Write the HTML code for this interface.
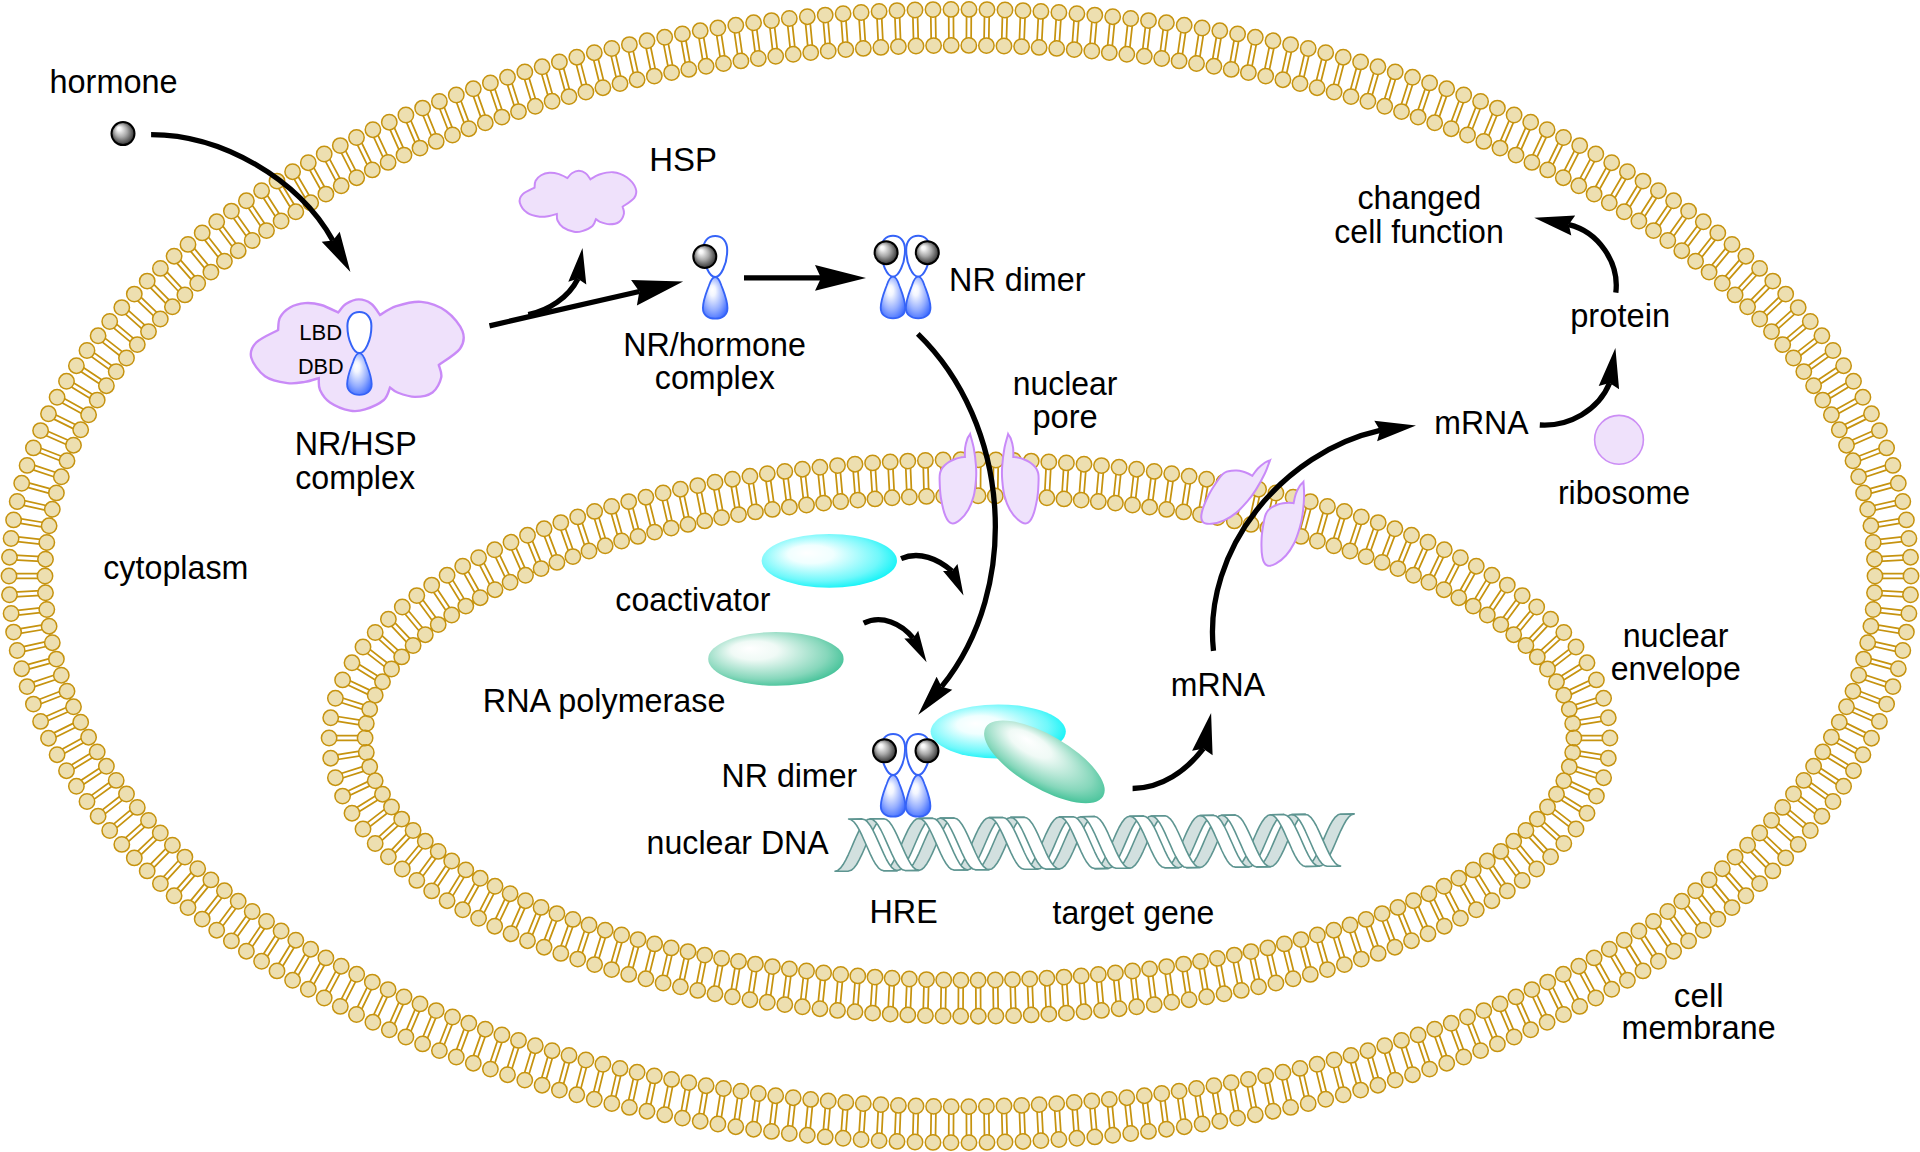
<!DOCTYPE html>
<html><head><meta charset="utf-8"><style>html,body{margin:0;padding:0;background:#fff;overflow:hidden}svg{display:block}</style></head>
<body><svg width="1920" height="1152" viewBox="0 0 1920 1152">
<defs>
 <radialGradient id="gball" cx="0.5" cy="0.5" r="0.56" fx="0.3" fy="0.25">
  <stop offset="0" stop-color="#ffffff"/><stop offset="0.15" stop-color="#f5f5f5"/><stop offset="0.5" stop-color="#a9a9a9"/><stop offset="0.8" stop-color="#555"/><stop offset="1" stop-color="#151515"/>
 </radialGradient>
 <radialGradient id="gnr" cx="0.45" cy="0.45" r="0.62" fx="0.38" fy="0.3">
  <stop offset="0" stop-color="#ffffff"/><stop offset="0.2" stop-color="#f3f6ff"/><stop offset="0.65" stop-color="#95aeff"/><stop offset="1" stop-color="#3f6cff"/>
 </radialGradient>
 <radialGradient id="gcoa" cx="0.45" cy="0.45" r="0.6" fx="0.33" fy="0.35">
  <stop offset="0" stop-color="#ffffff"/><stop offset="0.28" stop-color="#f0ffff"/><stop offset="0.75" stop-color="#6ff8fb"/><stop offset="1" stop-color="#05f2f6"/>
 </radialGradient>
 <radialGradient id="grna" cx="0.45" cy="0.45" r="0.62" fx="0.3" fy="0.3">
  <stop offset="0" stop-color="#ffffff"/><stop offset="0.28" stop-color="#f0faf6"/><stop offset="0.75" stop-color="#86d7bb"/><stop offset="1" stop-color="#34bd90"/>
 </radialGradient>
 
<g id="nr">
 <path d="M0,0C-3,0 -6,-3.5 -8,-8C-10.5,-13 -12,-20 -12,-27C-12,-36 -7,-41 0,-41C7,-41 12,-36 12,-27C12,-20 10.5,-13 8,-8C6,-3.5 3,0 0,0Z" fill="#fff" stroke="#3563f7" stroke-width="2"/>
 <path d="M0,0C2.5,0 4.6,3.5 6.4,9C8.6,15 12.2,23 12.3,31C12.4,38 7,41.7 0,41.7C-7,41.7 -12.4,38 -12.3,31C-12.2,23 -8.6,15 -6.4,9C-4.6,3.5 -2.5,0 0,0Z" fill="url(#gnr)" stroke="#3563f7" stroke-width="1.8"/>
</g>
</defs>
<rect width="1920" height="1152" fill="#fff"/>
<g stroke="#c6930f"><path d="M966.6,9.4L966.4,45.4M971.3,9.4L971.1,45.4M984.6,9.6L984.0,45.6M989.3,9.7L988.7,45.7M1002.6,10.0L1001.6,46.0M1007.3,10.1L1006.3,46.1M1020.6,10.5L1019.2,46.5M1025.3,10.7L1023.9,46.7M1038.6,11.3L1036.8,47.3M1043.3,11.6L1041.5,47.5M1056.6,12.3L1054.3,48.2M1061.3,12.6L1059.0,48.5M1074.5,13.5L1071.9,49.4M1079.2,13.8L1076.6,49.7M1092.5,14.9L1089.4,50.8M1097.2,15.3L1094.1,51.2M1110.4,16.5L1107.0,52.3M1115.1,16.9L1111.6,52.8M1128.3,18.3L1124.4,54.1M1133.0,18.8L1129.1,54.6M1146.2,20.3L1141.9,56.1M1150.9,20.9L1146.6,56.6M1164.1,22.5L1159.4,58.2M1168.7,23.1L1164.0,58.8M1181.9,25.0L1176.8,60.6M1186.6,25.6L1181.4,61.3M1199.7,27.6L1194.2,63.2M1204.4,28.3L1198.8,63.9M1217.5,30.5L1211.5,66.0M1222.2,31.2L1216.2,66.7M1235.3,33.5L1228.9,69.0M1239.9,34.4L1233.5,69.8M1253.0,36.8L1246.1,72.2M1257.6,37.7L1250.7,73.1M1270.7,40.3L1263.4,75.6M1275.3,41.3L1268.0,76.5M1288.3,44.1L1280.6,79.2M1292.9,45.1L1285.1,80.2M1305.9,48.0L1297.7,83.1M1310.4,49.1L1302.3,84.1M1323.4,52.2L1314.8,87.1M1328.0,53.3L1319.3,88.3M1340.9,56.6L1331.8,91.4M1345.4,57.8L1336.3,92.6M1358.3,61.2L1348.8,95.9M1362.8,62.5L1353.3,97.2M1375.7,66.1L1365.7,100.7M1380.2,67.4L1370.2,102.0M1393.0,71.2L1382.5,105.7M1397.5,72.6L1387.0,107.0M1410.2,76.6L1399.2,110.9M1414.7,78.0L1403.7,112.3M1427.4,82.2L1415.9,116.3M1431.8,83.7L1420.3,117.8M1444.5,88.1L1432.5,122.0M1448.9,89.6L1436.9,123.6M1461.5,94.2L1449.0,127.9M1465.9,95.8L1453.4,129.6M1478.4,100.5L1465.3,134.1M1482.8,102.2L1469.7,135.8M1495.2,107.2L1481.6,140.5M1499.5,109.0L1486.0,142.3M1511.9,114.1L1497.8,147.2M1516.2,115.9L1502.1,149.1M1528.5,121.3L1513.9,154.2M1532.8,123.2L1518.2,156.1M1545.0,128.8L1529.8,161.4M1549.3,130.7L1534.1,163.4M1561.4,136.5L1545.6,168.9M1565.6,138.6L1549.8,170.9M1577.6,144.6L1561.2,176.6M1581.8,146.7L1565.4,178.8M1593.7,152.9L1576.7,184.7M1597.8,155.1L1580.9,186.9M1609.6,161.6L1592.1,193.0M1613.7,163.9L1596.2,195.3M1625.4,170.5L1607.2,201.6M1629.5,172.9L1611.3,204.0M1641.0,179.8L1622.2,210.5M1645.0,182.3L1626.2,213.0M1656.4,189.5L1637.0,219.7M1660.4,192.0L1640.9,222.3M1671.7,199.4L1651.5,229.3M1675.6,202.1L1655.4,231.9M1686.7,209.8L1665.8,239.1M1690.5,212.5L1669.7,241.8M1701.4,220.4L1679.9,249.3M1705.2,223.2L1683.7,252.1M1716.0,231.5L1693.7,259.8M1719.7,234.4L1697.4,262.7M1730.2,242.9L1707.3,270.6M1733.8,245.9L1710.9,273.6M1744.2,254.7L1720.5,281.8M1747.7,257.8L1724.0,284.9M1757.8,266.8L1733.4,293.3M1761.3,270.0L1736.8,296.5M1771.1,279.4L1745.9,305.1M1774.5,282.7L1749.3,308.4M1784.1,292.4L1758.1,317.3M1787.4,295.8L1761.4,320.7M1796.7,305.8L1769.9,329.9M1799.8,309.3L1773.0,333.4M1808.8,319.7L1781.2,342.8M1811.8,323.3L1784.2,346.4M1820.5,333.9L1792.1,356.1M1823.4,337.6L1795.0,359.8M1831.6,348.6L1802.5,369.7M1834.4,352.4L1805.2,373.5M1842.3,363.7L1812.3,383.7M1844.9,367.7L1814.9,387.6M1852.3,379.3L1821.6,398.1M1854.7,383.3L1824.0,402.1M1861.7,395.3L1830.2,412.7M1864.0,399.4L1832.5,416.8M1870.5,411.7L1838.2,427.7M1872.6,415.9L1840.3,431.9M1878.5,428.5L1845.5,443.0M1880.4,432.8L1847.4,447.3M1885.7,445.7L1852.1,458.7M1887.4,450.0L1853.8,463.0M1892.1,463.2L1858.0,474.5M1893.6,467.7L1859.4,479.0M1897.7,481.1L1863.0,490.6M1898.9,485.6L1864.2,495.2M1902.3,499.2L1867.2,507.0M1903.3,503.8L1868.2,511.6M1906.0,517.6L1870.5,523.5M1906.8,522.2L1871.2,528.1M1908.7,536.2L1872.9,540.1M1909.2,540.8L1873.4,544.8M1910.4,554.9L1874.4,556.9M1910.6,559.6L1874.7,561.6M1911.0,573.7L1875.0,573.7M1911.0,578.4L1875.0,578.4M1910.6,592.4L1874.7,590.4M1910.4,597.1L1874.4,595.1M1909.2,611.2L1873.4,607.2M1908.7,615.8L1872.9,611.9M1906.8,629.8L1871.2,623.9M1906.0,634.4L1870.5,628.5M1903.3,648.2L1868.2,640.4M1902.3,652.8L1867.2,645.0M1898.9,666.4L1864.2,656.8M1897.7,670.9L1863.0,661.4M1893.6,684.3L1859.4,673.0M1892.1,688.8L1858.0,677.5M1887.4,702.0L1853.8,689.0M1885.7,706.3L1852.1,693.3M1880.4,719.2L1847.4,704.7M1878.5,723.5L1845.5,709.0M1872.6,736.1L1840.3,720.1M1870.5,740.3L1838.2,724.3M1864.0,752.6L1832.5,735.2M1861.7,756.7L1830.2,739.3M1854.7,768.7L1824.0,749.9M1852.3,772.7L1821.6,753.9M1844.9,784.3L1814.9,764.4M1842.3,788.3L1812.3,768.3M1834.4,799.6L1805.2,778.5M1831.6,803.4L1802.5,782.3M1823.4,814.4L1795.0,792.2M1820.5,818.1L1792.1,795.9M1811.8,828.7L1784.2,805.6M1808.8,832.3L1781.2,809.2M1799.8,842.7L1773.0,818.6M1796.7,846.2L1769.9,822.1M1787.4,856.2L1761.4,831.3M1784.1,859.6L1758.1,834.7M1774.5,869.3L1749.3,843.6M1771.1,872.6L1745.9,846.9M1761.3,882.0L1736.8,855.5M1757.8,885.2L1733.4,858.7M1747.7,894.2L1724.0,867.1M1744.2,897.3L1720.5,870.2M1733.8,906.1L1710.9,878.4M1730.2,909.1L1707.3,881.4M1719.7,917.6L1697.4,889.3M1716.0,920.5L1693.7,892.2M1705.2,928.8L1683.7,899.9M1701.4,931.6L1679.9,902.7M1690.5,939.5L1669.7,910.2M1686.7,942.2L1665.8,912.9M1675.6,949.9L1655.4,920.1M1671.7,952.6L1651.5,922.7M1660.4,960.0L1640.9,929.7M1656.4,962.5L1637.0,932.3M1645.0,969.7L1626.2,939.0M1641.0,972.2L1622.2,941.5M1629.5,979.1L1611.3,948.0M1625.4,981.5L1607.2,950.4M1613.7,988.1L1596.2,956.7M1609.6,990.4L1592.1,959.0M1597.8,996.9L1580.9,965.1M1593.7,999.1L1576.7,967.3M1581.8,1005.3L1565.4,973.2M1577.6,1007.4L1561.2,975.4M1565.6,1013.4L1549.8,981.1M1561.4,1015.5L1545.6,983.1M1549.3,1021.3L1534.1,988.6M1545.0,1023.2L1529.8,990.6M1532.8,1028.8L1518.2,995.9M1528.5,1030.7L1513.9,997.8M1516.2,1036.1L1502.1,1002.9M1511.9,1037.9L1497.8,1004.8M1499.5,1043.0L1486.0,1009.7M1495.2,1044.8L1481.6,1011.5M1482.8,1049.8L1469.7,1016.2M1478.4,1051.5L1465.3,1017.9M1465.9,1056.2L1453.4,1022.4M1461.5,1057.8L1449.0,1024.1M1448.9,1062.4L1436.9,1028.4M1444.5,1063.9L1432.5,1030.0M1431.8,1068.3L1420.3,1034.2M1427.4,1069.8L1415.9,1035.7M1414.7,1074.0L1403.7,1039.7M1410.2,1075.4L1399.2,1041.1M1397.5,1079.4L1387.0,1045.0M1393.0,1080.8L1382.5,1046.3M1380.2,1084.6L1370.2,1050.0M1375.7,1085.9L1365.7,1051.3M1362.8,1089.5L1353.3,1054.8M1358.3,1090.8L1348.8,1056.1M1345.4,1094.2L1336.3,1059.4M1340.9,1095.4L1331.8,1060.6M1328.0,1098.7L1319.3,1063.7M1323.4,1099.8L1314.8,1064.9M1310.4,1102.9L1302.3,1067.9M1305.9,1104.0L1297.7,1068.9M1292.9,1106.9L1285.1,1071.8M1288.3,1107.9L1280.6,1072.8M1275.3,1110.7L1268.0,1075.5M1270.7,1111.7L1263.4,1076.4M1257.6,1114.3L1250.7,1078.9M1253.0,1115.2L1246.1,1079.8M1239.9,1117.6L1233.5,1082.2M1235.3,1118.5L1228.9,1083.0M1222.2,1120.8L1216.2,1085.3M1217.5,1121.5L1211.5,1086.0M1204.4,1123.7L1198.8,1088.1M1199.7,1124.4L1194.2,1088.8M1186.6,1126.4L1181.4,1090.7M1181.9,1127.0L1176.8,1091.4M1168.7,1128.9L1164.0,1093.2M1164.1,1129.5L1159.4,1093.8M1150.9,1131.1L1146.6,1095.4M1146.2,1131.7L1141.9,1095.9M1133.0,1133.2L1129.1,1097.4M1128.3,1133.7L1124.4,1097.9M1115.1,1135.1L1111.6,1099.2M1110.4,1135.5L1107.0,1099.7M1097.2,1136.7L1094.1,1100.8M1092.5,1137.1L1089.4,1101.2M1079.2,1138.2L1076.6,1102.3M1074.5,1138.5L1071.9,1102.6M1061.3,1139.4L1059.0,1103.5M1056.6,1139.7L1054.3,1103.8M1043.3,1140.4L1041.5,1104.5M1038.6,1140.7L1036.8,1104.7M1025.3,1141.3L1023.9,1105.3M1020.6,1141.5L1019.2,1105.5M1007.3,1141.9L1006.3,1105.9M1002.6,1142.0L1001.6,1106.0M989.3,1142.3L988.7,1106.3M984.6,1142.4L984.0,1106.4M971.3,1142.6L971.1,1106.6M966.6,1142.6L966.4,1106.6M953.4,1142.6L953.6,1106.6M948.7,1142.6L948.9,1106.6M935.4,1142.4L936.0,1106.4M930.7,1142.3L931.3,1106.3M917.4,1142.0L918.4,1106.0M912.7,1141.9L913.7,1105.9M899.4,1141.5L900.8,1105.5M894.7,1141.3L896.1,1105.3M881.4,1140.7L883.2,1104.7M876.7,1140.4L878.5,1104.5M863.4,1139.7L865.7,1103.8M858.7,1139.4L861.0,1103.5M845.5,1138.5L848.1,1102.6M840.8,1138.2L843.4,1102.3M827.5,1137.1L830.6,1101.2M822.8,1136.7L825.9,1100.8M809.6,1135.5L813.0,1099.7M804.9,1135.1L808.4,1099.2M791.7,1133.7L795.6,1097.9M787.0,1133.2L790.9,1097.4M773.8,1131.7L778.1,1095.9M769.1,1131.1L773.4,1095.4M755.9,1129.5L760.6,1093.8M751.3,1128.9L756.0,1093.2M738.1,1127.0L743.2,1091.4M733.4,1126.4L738.6,1090.7M720.3,1124.4L725.8,1088.8M715.6,1123.7L721.2,1088.1M702.5,1121.5L708.5,1086.0M697.8,1120.8L703.8,1085.3M684.7,1118.5L691.1,1083.0M680.1,1117.6L686.5,1082.2M667.0,1115.2L673.9,1079.8M662.4,1114.3L669.3,1078.9M649.3,1111.7L656.6,1076.4M644.7,1110.7L652.0,1075.5M631.7,1107.9L639.4,1072.8M627.1,1106.9L634.9,1071.8M614.1,1104.0L622.3,1068.9M609.6,1102.9L617.7,1067.9M596.6,1099.8L605.2,1064.9M592.0,1098.7L600.7,1063.7M579.1,1095.4L588.2,1060.6M574.6,1094.2L583.7,1059.4M561.7,1090.8L571.2,1056.1M557.2,1089.5L566.7,1054.8M544.3,1085.9L554.3,1051.3M539.8,1084.6L549.8,1050.0M527.0,1080.8L537.5,1046.3M522.5,1079.4L533.0,1045.0M509.8,1075.4L520.8,1041.1M505.3,1074.0L516.3,1039.7M492.6,1069.8L504.1,1035.7M488.2,1068.3L499.7,1034.2M475.5,1063.9L487.5,1030.0M471.1,1062.4L483.1,1028.4M458.5,1057.8L471.0,1024.1M454.1,1056.2L466.6,1022.4M441.6,1051.5L454.7,1017.9M437.2,1049.8L450.3,1016.2M424.8,1044.8L438.4,1011.5M420.5,1043.0L434.0,1009.7M408.1,1037.9L422.2,1004.8M403.8,1036.1L417.9,1002.9M391.5,1030.7L406.1,997.8M387.2,1028.8L401.8,995.9M375.0,1023.2L390.2,990.6M370.7,1021.3L385.9,988.6M358.6,1015.5L374.4,983.1M354.4,1013.4L370.2,981.1M342.4,1007.4L358.8,975.4M338.2,1005.3L354.6,973.2M326.3,999.1L343.3,967.3M322.2,996.9L339.1,965.1M310.4,990.4L327.9,959.0M306.3,988.1L323.8,956.7M294.6,981.5L312.8,950.4M290.5,979.1L308.7,948.0M279.0,972.2L297.8,941.5M275.0,969.7L293.8,939.0M263.6,962.5L283.0,932.3M259.6,960.0L279.1,929.7M248.3,952.6L268.5,922.7M244.4,949.9L264.6,920.1M233.3,942.2L254.2,912.9M229.5,939.5L250.3,910.2M218.6,931.6L240.1,902.7M214.8,928.8L236.3,899.9M204.0,920.5L226.3,892.2M200.3,917.6L222.6,889.3M189.8,909.1L212.7,881.4M186.2,906.1L209.1,878.4M175.8,897.3L199.5,870.2M172.3,894.2L196.0,867.1M162.2,885.2L186.6,858.7M158.7,882.0L183.2,855.5M148.9,872.6L174.1,846.9M145.5,869.3L170.7,843.6M135.9,859.6L161.9,834.7M132.6,856.2L158.6,831.3M123.3,846.2L150.1,822.1M120.2,842.7L147.0,818.6M111.2,832.3L138.8,809.2M108.2,828.7L135.8,805.6M99.5,818.1L127.9,795.9M96.6,814.4L125.0,792.2M88.4,803.4L117.5,782.3M85.6,799.6L114.8,778.5M77.7,788.3L107.7,768.3M75.1,784.3L105.1,764.4M67.7,772.7L98.4,753.9M65.3,768.7L96.0,749.9M58.3,756.7L89.8,739.3M56.0,752.6L87.5,735.2M49.5,740.3L81.8,724.3M47.4,736.1L79.7,720.1M41.5,723.5L74.5,709.0M39.6,719.2L72.6,704.7M34.3,706.3L67.9,693.3M32.6,702.0L66.2,689.0M27.9,688.8L62.0,677.5M26.4,684.3L60.6,673.0M22.3,670.9L57.0,661.4M21.1,666.4L55.8,656.8M17.7,652.8L52.8,645.0M16.7,648.2L51.8,640.4M14.0,634.4L49.5,628.5M13.2,629.8L48.8,623.9M11.3,615.8L47.1,611.9M10.8,611.2L46.6,607.2M9.6,597.1L45.6,595.1M9.4,592.4L45.3,590.4M9.0,578.3L45.0,578.3M9.0,573.6L45.0,573.6M9.4,559.6L45.3,561.6M9.6,554.9L45.6,556.9M10.8,540.8L46.6,544.8M11.3,536.2L47.1,540.1M13.2,522.2L48.8,528.1M14.0,517.6L49.5,523.5M16.7,503.8L51.8,511.6M17.7,499.2L52.8,507.0M21.1,485.6L55.8,495.2M22.3,481.1L57.0,490.6M26.4,467.7L60.6,479.0M27.9,463.2L62.0,474.5M32.6,450.0L66.2,463.0M34.3,445.7L67.9,458.7M39.6,432.8L72.6,447.3M41.5,428.5L74.5,443.0M47.4,415.9L79.7,431.9M49.5,411.7L81.8,427.7M56.0,399.4L87.5,416.8M58.3,395.3L89.8,412.7M65.3,383.3L96.0,402.1M67.7,379.3L98.4,398.1M75.1,367.7L105.1,387.6M77.7,363.7L107.7,383.7M85.6,352.4L114.8,373.5M88.4,348.6L117.5,369.7M96.6,337.6L125.0,359.8M99.5,333.9L127.9,356.1M108.2,323.3L135.8,346.4M111.2,319.7L138.8,342.8M120.2,309.3L147.0,333.4M123.3,305.8L150.1,329.9M132.6,295.8L158.6,320.7M135.9,292.4L161.9,317.3M145.5,282.7L170.7,308.4M148.9,279.4L174.1,305.1M158.7,270.0L183.2,296.5M162.2,266.8L186.6,293.3M172.3,257.8L196.0,284.9M175.8,254.7L199.5,281.8M186.2,245.9L209.1,273.6M189.8,242.9L212.7,270.6M200.3,234.4L222.6,262.7M204.0,231.5L226.3,259.8M214.8,223.2L236.3,252.1M218.6,220.4L240.1,249.3M229.5,212.5L250.3,241.8M233.3,209.8L254.2,239.1M244.4,202.1L264.6,231.9M248.3,199.4L268.5,229.3M259.6,192.0L279.1,222.3M263.6,189.5L283.0,219.7M275.0,182.3L293.8,213.0M279.0,179.8L297.8,210.5M290.5,172.9L308.7,204.0M294.6,170.5L312.8,201.6M306.3,163.9L323.8,195.3M310.4,161.6L327.9,193.0M322.2,155.1L339.1,186.9M326.3,152.9L343.3,184.7M338.2,146.7L354.6,178.8M342.4,144.6L358.8,176.6M354.4,138.6L370.2,170.9M358.6,136.5L374.4,168.9M370.7,130.7L385.9,163.4M375.0,128.8L390.2,161.4M387.2,123.2L401.8,156.1M391.5,121.3L406.1,154.2M403.8,115.9L417.9,149.1M408.1,114.1L422.2,147.2M420.5,109.0L434.0,142.3M424.8,107.2L438.4,140.5M437.2,102.2L450.3,135.8M441.6,100.5L454.7,134.1M454.1,95.8L466.6,129.6M458.5,94.2L471.0,127.9M471.1,89.6L483.1,123.6M475.5,88.1L487.5,122.0M488.2,83.7L499.7,117.8M492.6,82.2L504.1,116.3M505.3,78.0L516.3,112.3M509.8,76.6L520.8,110.9M522.5,72.6L533.0,107.0M527.0,71.2L537.5,105.7M539.8,67.4L549.8,102.0M544.3,66.1L554.3,100.7M557.2,62.5L566.7,97.2M561.7,61.2L571.2,95.9M574.6,57.8L583.7,92.6M579.1,56.6L588.2,91.4M592.0,53.3L600.7,88.3M596.6,52.2L605.2,87.1M609.6,49.1L617.7,84.1M614.1,48.0L622.3,83.1M627.1,45.1L634.9,80.2M631.7,44.1L639.4,79.2M644.7,41.3L652.0,76.5M649.3,40.3L656.6,75.6M662.4,37.7L669.3,73.1M667.0,36.8L673.9,72.2M680.1,34.4L686.5,69.8M684.7,33.5L691.1,69.0M697.8,31.2L703.8,66.7M702.5,30.5L708.5,66.0M715.6,28.3L721.2,63.9M720.3,27.6L725.8,63.2M733.4,25.6L738.6,61.3M738.1,25.0L743.2,60.6M751.3,23.1L756.0,58.8M755.9,22.5L760.6,58.2M769.1,20.9L773.4,56.6M773.8,20.3L778.1,56.1M787.0,18.8L790.9,54.6M791.7,18.3L795.6,54.1M804.9,16.9L808.4,52.8M809.6,16.5L813.0,52.3M822.8,15.3L825.9,51.2M827.5,14.9L830.6,50.8M840.8,13.8L843.4,49.7M845.5,13.5L848.1,49.4M858.7,12.6L861.0,48.5M863.4,12.3L865.7,48.2M876.7,11.6L878.5,47.5M881.4,11.3L883.2,47.3M894.7,10.7L896.1,46.7M899.4,10.5L900.8,46.5M912.7,10.1L913.7,46.1M917.4,10.0L918.4,46.0M930.7,9.7L931.3,45.7M935.4,9.6L936.0,45.6M948.7,9.4L948.9,45.4M953.4,9.4L953.6,45.4" fill="none" stroke-width="1.75"/>
<path d="M961.3,9.4a7.7,7.7 0 1 0 15.4,0a7.7,7.7 0 1 0 -15.4,0zM961.1,45.4a7.7,7.7 0 1 0 15.4,0a7.7,7.7 0 1 0 -15.4,0zM979.3,9.6a7.7,7.7 0 1 0 15.4,0a7.7,7.7 0 1 0 -15.4,0zM978.7,45.6a7.7,7.7 0 1 0 15.4,0a7.7,7.7 0 1 0 -15.4,0zM997.3,10.0a7.7,7.7 0 1 0 15.4,0a7.7,7.7 0 1 0 -15.4,0zM996.3,46.0a7.7,7.7 0 1 0 15.4,0a7.7,7.7 0 1 0 -15.4,0zM1015.3,10.6a7.7,7.7 0 1 0 15.4,0a7.7,7.7 0 1 0 -15.4,0zM1013.9,46.6a7.7,7.7 0 1 0 15.4,0a7.7,7.7 0 1 0 -15.4,0zM1033.2,11.4a7.7,7.7 0 1 0 15.4,0a7.7,7.7 0 1 0 -15.4,0zM1031.4,47.4a7.7,7.7 0 1 0 15.4,0a7.7,7.7 0 1 0 -15.4,0zM1051.2,12.5a7.7,7.7 0 1 0 15.4,0a7.7,7.7 0 1 0 -15.4,0zM1049.0,48.4a7.7,7.7 0 1 0 15.4,0a7.7,7.7 0 1 0 -15.4,0zM1069.2,13.7a7.7,7.7 0 1 0 15.4,0a7.7,7.7 0 1 0 -15.4,0zM1066.5,49.6a7.7,7.7 0 1 0 15.4,0a7.7,7.7 0 1 0 -15.4,0zM1087.1,15.1a7.7,7.7 0 1 0 15.4,0a7.7,7.7 0 1 0 -15.4,0zM1084.1,51.0a7.7,7.7 0 1 0 15.4,0a7.7,7.7 0 1 0 -15.4,0zM1105.0,16.7a7.7,7.7 0 1 0 15.4,0a7.7,7.7 0 1 0 -15.4,0zM1101.6,52.6a7.7,7.7 0 1 0 15.4,0a7.7,7.7 0 1 0 -15.4,0zM1123.0,18.5a7.7,7.7 0 1 0 15.4,0a7.7,7.7 0 1 0 -15.4,0zM1119.1,54.3a7.7,7.7 0 1 0 15.4,0a7.7,7.7 0 1 0 -15.4,0zM1140.8,20.6a7.7,7.7 0 1 0 15.4,0a7.7,7.7 0 1 0 -15.4,0zM1136.6,56.3a7.7,7.7 0 1 0 15.4,0a7.7,7.7 0 1 0 -15.4,0zM1158.7,22.8a7.7,7.7 0 1 0 15.4,0a7.7,7.7 0 1 0 -15.4,0zM1154.0,58.5a7.7,7.7 0 1 0 15.4,0a7.7,7.7 0 1 0 -15.4,0zM1176.5,25.3a7.7,7.7 0 1 0 15.4,0a7.7,7.7 0 1 0 -15.4,0zM1171.4,60.9a7.7,7.7 0 1 0 15.4,0a7.7,7.7 0 1 0 -15.4,0zM1194.4,28.0a7.7,7.7 0 1 0 15.4,0a7.7,7.7 0 1 0 -15.4,0zM1188.8,63.5a7.7,7.7 0 1 0 15.4,0a7.7,7.7 0 1 0 -15.4,0zM1212.1,30.8a7.7,7.7 0 1 0 15.4,0a7.7,7.7 0 1 0 -15.4,0zM1206.2,66.3a7.7,7.7 0 1 0 15.4,0a7.7,7.7 0 1 0 -15.4,0zM1229.9,33.9a7.7,7.7 0 1 0 15.4,0a7.7,7.7 0 1 0 -15.4,0zM1223.5,69.4a7.7,7.7 0 1 0 15.4,0a7.7,7.7 0 1 0 -15.4,0zM1247.6,37.3a7.7,7.7 0 1 0 15.4,0a7.7,7.7 0 1 0 -15.4,0zM1240.7,72.6a7.7,7.7 0 1 0 15.4,0a7.7,7.7 0 1 0 -15.4,0zM1265.3,40.8a7.7,7.7 0 1 0 15.4,0a7.7,7.7 0 1 0 -15.4,0zM1258.0,76.1a7.7,7.7 0 1 0 15.4,0a7.7,7.7 0 1 0 -15.4,0zM1282.9,44.6a7.7,7.7 0 1 0 15.4,0a7.7,7.7 0 1 0 -15.4,0zM1275.2,79.7a7.7,7.7 0 1 0 15.4,0a7.7,7.7 0 1 0 -15.4,0zM1300.5,48.5a7.7,7.7 0 1 0 15.4,0a7.7,7.7 0 1 0 -15.4,0zM1292.3,83.6a7.7,7.7 0 1 0 15.4,0a7.7,7.7 0 1 0 -15.4,0zM1318.0,52.7a7.7,7.7 0 1 0 15.4,0a7.7,7.7 0 1 0 -15.4,0zM1309.4,87.7a7.7,7.7 0 1 0 15.4,0a7.7,7.7 0 1 0 -15.4,0zM1335.5,57.2a7.7,7.7 0 1 0 15.4,0a7.7,7.7 0 1 0 -15.4,0zM1326.4,92.0a7.7,7.7 0 1 0 15.4,0a7.7,7.7 0 1 0 -15.4,0zM1352.9,61.9a7.7,7.7 0 1 0 15.4,0a7.7,7.7 0 1 0 -15.4,0zM1343.3,96.6a7.7,7.7 0 1 0 15.4,0a7.7,7.7 0 1 0 -15.4,0zM1370.2,66.8a7.7,7.7 0 1 0 15.4,0a7.7,7.7 0 1 0 -15.4,0zM1360.2,101.3a7.7,7.7 0 1 0 15.4,0a7.7,7.7 0 1 0 -15.4,0zM1387.5,71.9a7.7,7.7 0 1 0 15.4,0a7.7,7.7 0 1 0 -15.4,0zM1377.0,106.3a7.7,7.7 0 1 0 15.4,0a7.7,7.7 0 1 0 -15.4,0zM1404.8,77.3a7.7,7.7 0 1 0 15.4,0a7.7,7.7 0 1 0 -15.4,0zM1393.8,111.6a7.7,7.7 0 1 0 15.4,0a7.7,7.7 0 1 0 -15.4,0zM1421.9,82.9a7.7,7.7 0 1 0 15.4,0a7.7,7.7 0 1 0 -15.4,0zM1410.4,117.1a7.7,7.7 0 1 0 15.4,0a7.7,7.7 0 1 0 -15.4,0zM1439.0,88.8a7.7,7.7 0 1 0 15.4,0a7.7,7.7 0 1 0 -15.4,0zM1427.0,122.8a7.7,7.7 0 1 0 15.4,0a7.7,7.7 0 1 0 -15.4,0zM1456.0,95.0a7.7,7.7 0 1 0 15.4,0a7.7,7.7 0 1 0 -15.4,0zM1443.5,128.7a7.7,7.7 0 1 0 15.4,0a7.7,7.7 0 1 0 -15.4,0zM1472.9,101.4a7.7,7.7 0 1 0 15.4,0a7.7,7.7 0 1 0 -15.4,0zM1459.8,135.0a7.7,7.7 0 1 0 15.4,0a7.7,7.7 0 1 0 -15.4,0zM1489.7,108.1a7.7,7.7 0 1 0 15.4,0a7.7,7.7 0 1 0 -15.4,0zM1476.1,141.4a7.7,7.7 0 1 0 15.4,0a7.7,7.7 0 1 0 -15.4,0zM1506.4,115.0a7.7,7.7 0 1 0 15.4,0a7.7,7.7 0 1 0 -15.4,0zM1492.3,148.1a7.7,7.7 0 1 0 15.4,0a7.7,7.7 0 1 0 -15.4,0zM1523.0,122.2a7.7,7.7 0 1 0 15.4,0a7.7,7.7 0 1 0 -15.4,0zM1508.3,155.1a7.7,7.7 0 1 0 15.4,0a7.7,7.7 0 1 0 -15.4,0zM1539.4,129.7a7.7,7.7 0 1 0 15.4,0a7.7,7.7 0 1 0 -15.4,0zM1524.2,162.4a7.7,7.7 0 1 0 15.4,0a7.7,7.7 0 1 0 -15.4,0zM1555.8,137.5a7.7,7.7 0 1 0 15.4,0a7.7,7.7 0 1 0 -15.4,0zM1540.0,169.9a7.7,7.7 0 1 0 15.4,0a7.7,7.7 0 1 0 -15.4,0zM1572.0,145.6a7.7,7.7 0 1 0 15.4,0a7.7,7.7 0 1 0 -15.4,0zM1555.6,177.7a7.7,7.7 0 1 0 15.4,0a7.7,7.7 0 1 0 -15.4,0zM1588.1,154.0a7.7,7.7 0 1 0 15.4,0a7.7,7.7 0 1 0 -15.4,0zM1571.1,185.8a7.7,7.7 0 1 0 15.4,0a7.7,7.7 0 1 0 -15.4,0zM1604.0,162.7a7.7,7.7 0 1 0 15.4,0a7.7,7.7 0 1 0 -15.4,0zM1586.4,194.1a7.7,7.7 0 1 0 15.4,0a7.7,7.7 0 1 0 -15.4,0zM1619.7,171.7a7.7,7.7 0 1 0 15.4,0a7.7,7.7 0 1 0 -15.4,0zM1601.6,202.8a7.7,7.7 0 1 0 15.4,0a7.7,7.7 0 1 0 -15.4,0zM1635.3,181.1a7.7,7.7 0 1 0 15.4,0a7.7,7.7 0 1 0 -15.4,0zM1616.5,211.8a7.7,7.7 0 1 0 15.4,0a7.7,7.7 0 1 0 -15.4,0zM1650.7,190.7a7.7,7.7 0 1 0 15.4,0a7.7,7.7 0 1 0 -15.4,0zM1631.2,221.0a7.7,7.7 0 1 0 15.4,0a7.7,7.7 0 1 0 -15.4,0zM1665.9,200.8a7.7,7.7 0 1 0 15.4,0a7.7,7.7 0 1 0 -15.4,0zM1645.8,230.6a7.7,7.7 0 1 0 15.4,0a7.7,7.7 0 1 0 -15.4,0zM1680.9,211.1a7.7,7.7 0 1 0 15.4,0a7.7,7.7 0 1 0 -15.4,0zM1660.1,240.5a7.7,7.7 0 1 0 15.4,0a7.7,7.7 0 1 0 -15.4,0zM1695.6,221.8a7.7,7.7 0 1 0 15.4,0a7.7,7.7 0 1 0 -15.4,0zM1674.1,250.7a7.7,7.7 0 1 0 15.4,0a7.7,7.7 0 1 0 -15.4,0zM1710.1,232.9a7.7,7.7 0 1 0 15.4,0a7.7,7.7 0 1 0 -15.4,0zM1687.9,261.2a7.7,7.7 0 1 0 15.4,0a7.7,7.7 0 1 0 -15.4,0zM1724.3,244.4a7.7,7.7 0 1 0 15.4,0a7.7,7.7 0 1 0 -15.4,0zM1701.4,272.1a7.7,7.7 0 1 0 15.4,0a7.7,7.7 0 1 0 -15.4,0zM1738.2,256.2a7.7,7.7 0 1 0 15.4,0a7.7,7.7 0 1 0 -15.4,0zM1714.6,283.3a7.7,7.7 0 1 0 15.4,0a7.7,7.7 0 1 0 -15.4,0zM1751.9,268.4a7.7,7.7 0 1 0 15.4,0a7.7,7.7 0 1 0 -15.4,0zM1727.4,294.9a7.7,7.7 0 1 0 15.4,0a7.7,7.7 0 1 0 -15.4,0zM1765.1,281.1a7.7,7.7 0 1 0 15.4,0a7.7,7.7 0 1 0 -15.4,0zM1739.9,306.8a7.7,7.7 0 1 0 15.4,0a7.7,7.7 0 1 0 -15.4,0zM1778.0,294.1a7.7,7.7 0 1 0 15.4,0a7.7,7.7 0 1 0 -15.4,0zM1752.0,319.0a7.7,7.7 0 1 0 15.4,0a7.7,7.7 0 1 0 -15.4,0zM1790.5,307.6a7.7,7.7 0 1 0 15.4,0a7.7,7.7 0 1 0 -15.4,0zM1763.8,331.6a7.7,7.7 0 1 0 15.4,0a7.7,7.7 0 1 0 -15.4,0zM1802.6,321.5a7.7,7.7 0 1 0 15.4,0a7.7,7.7 0 1 0 -15.4,0zM1775.0,344.6a7.7,7.7 0 1 0 15.4,0a7.7,7.7 0 1 0 -15.4,0zM1814.2,335.8a7.7,7.7 0 1 0 15.4,0a7.7,7.7 0 1 0 -15.4,0zM1785.8,358.0a7.7,7.7 0 1 0 15.4,0a7.7,7.7 0 1 0 -15.4,0zM1825.3,350.5a7.7,7.7 0 1 0 15.4,0a7.7,7.7 0 1 0 -15.4,0zM1796.1,371.6a7.7,7.7 0 1 0 15.4,0a7.7,7.7 0 1 0 -15.4,0zM1835.9,365.7a7.7,7.7 0 1 0 15.4,0a7.7,7.7 0 1 0 -15.4,0zM1805.9,385.7a7.7,7.7 0 1 0 15.4,0a7.7,7.7 0 1 0 -15.4,0zM1845.8,381.3a7.7,7.7 0 1 0 15.4,0a7.7,7.7 0 1 0 -15.4,0zM1815.1,400.1a7.7,7.7 0 1 0 15.4,0a7.7,7.7 0 1 0 -15.4,0zM1855.2,397.3a7.7,7.7 0 1 0 15.4,0a7.7,7.7 0 1 0 -15.4,0zM1823.7,414.8a7.7,7.7 0 1 0 15.4,0a7.7,7.7 0 1 0 -15.4,0zM1863.8,413.8a7.7,7.7 0 1 0 15.4,0a7.7,7.7 0 1 0 -15.4,0zM1831.6,429.8a7.7,7.7 0 1 0 15.4,0a7.7,7.7 0 1 0 -15.4,0zM1871.7,430.6a7.7,7.7 0 1 0 15.4,0a7.7,7.7 0 1 0 -15.4,0zM1838.8,445.2a7.7,7.7 0 1 0 15.4,0a7.7,7.7 0 1 0 -15.4,0zM1878.9,447.9a7.7,7.7 0 1 0 15.4,0a7.7,7.7 0 1 0 -15.4,0zM1845.3,460.8a7.7,7.7 0 1 0 15.4,0a7.7,7.7 0 1 0 -15.4,0zM1885.2,465.4a7.7,7.7 0 1 0 15.4,0a7.7,7.7 0 1 0 -15.4,0zM1851.0,476.8a7.7,7.7 0 1 0 15.4,0a7.7,7.7 0 1 0 -15.4,0zM1890.6,483.3a7.7,7.7 0 1 0 15.4,0a7.7,7.7 0 1 0 -15.4,0zM1855.9,492.9a7.7,7.7 0 1 0 15.4,0a7.7,7.7 0 1 0 -15.4,0zM1895.1,501.5a7.7,7.7 0 1 0 15.4,0a7.7,7.7 0 1 0 -15.4,0zM1860.0,509.3a7.7,7.7 0 1 0 15.4,0a7.7,7.7 0 1 0 -15.4,0zM1898.7,519.9a7.7,7.7 0 1 0 15.4,0a7.7,7.7 0 1 0 -15.4,0zM1863.2,525.8a7.7,7.7 0 1 0 15.4,0a7.7,7.7 0 1 0 -15.4,0zM1901.2,538.5a7.7,7.7 0 1 0 15.4,0a7.7,7.7 0 1 0 -15.4,0zM1865.5,542.5a7.7,7.7 0 1 0 15.4,0a7.7,7.7 0 1 0 -15.4,0zM1902.8,557.2a7.7,7.7 0 1 0 15.4,0a7.7,7.7 0 1 0 -15.4,0zM1866.8,559.2a7.7,7.7 0 1 0 15.4,0a7.7,7.7 0 1 0 -15.4,0zM1903.3,576.0a7.7,7.7 0 1 0 15.4,0a7.7,7.7 0 1 0 -15.4,0zM1867.3,576.0a7.7,7.7 0 1 0 15.4,0a7.7,7.7 0 1 0 -15.4,0zM1902.8,594.8a7.7,7.7 0 1 0 15.4,0a7.7,7.7 0 1 0 -15.4,0zM1866.8,592.8a7.7,7.7 0 1 0 15.4,0a7.7,7.7 0 1 0 -15.4,0zM1901.2,613.5a7.7,7.7 0 1 0 15.4,0a7.7,7.7 0 1 0 -15.4,0zM1865.5,609.5a7.7,7.7 0 1 0 15.4,0a7.7,7.7 0 1 0 -15.4,0zM1898.7,632.1a7.7,7.7 0 1 0 15.4,0a7.7,7.7 0 1 0 -15.4,0zM1863.2,626.2a7.7,7.7 0 1 0 15.4,0a7.7,7.7 0 1 0 -15.4,0zM1895.1,650.5a7.7,7.7 0 1 0 15.4,0a7.7,7.7 0 1 0 -15.4,0zM1860.0,642.7a7.7,7.7 0 1 0 15.4,0a7.7,7.7 0 1 0 -15.4,0zM1890.6,668.7a7.7,7.7 0 1 0 15.4,0a7.7,7.7 0 1 0 -15.4,0zM1855.9,659.1a7.7,7.7 0 1 0 15.4,0a7.7,7.7 0 1 0 -15.4,0zM1885.2,686.6a7.7,7.7 0 1 0 15.4,0a7.7,7.7 0 1 0 -15.4,0zM1851.0,675.2a7.7,7.7 0 1 0 15.4,0a7.7,7.7 0 1 0 -15.4,0zM1878.9,704.1a7.7,7.7 0 1 0 15.4,0a7.7,7.7 0 1 0 -15.4,0zM1845.3,691.2a7.7,7.7 0 1 0 15.4,0a7.7,7.7 0 1 0 -15.4,0zM1871.7,721.4a7.7,7.7 0 1 0 15.4,0a7.7,7.7 0 1 0 -15.4,0zM1838.8,706.8a7.7,7.7 0 1 0 15.4,0a7.7,7.7 0 1 0 -15.4,0zM1863.8,738.2a7.7,7.7 0 1 0 15.4,0a7.7,7.7 0 1 0 -15.4,0zM1831.6,722.2a7.7,7.7 0 1 0 15.4,0a7.7,7.7 0 1 0 -15.4,0zM1855.2,754.7a7.7,7.7 0 1 0 15.4,0a7.7,7.7 0 1 0 -15.4,0zM1823.7,737.2a7.7,7.7 0 1 0 15.4,0a7.7,7.7 0 1 0 -15.4,0zM1845.8,770.7a7.7,7.7 0 1 0 15.4,0a7.7,7.7 0 1 0 -15.4,0zM1815.1,751.9a7.7,7.7 0 1 0 15.4,0a7.7,7.7 0 1 0 -15.4,0zM1835.9,786.3a7.7,7.7 0 1 0 15.4,0a7.7,7.7 0 1 0 -15.4,0zM1805.9,766.3a7.7,7.7 0 1 0 15.4,0a7.7,7.7 0 1 0 -15.4,0zM1825.3,801.5a7.7,7.7 0 1 0 15.4,0a7.7,7.7 0 1 0 -15.4,0zM1796.1,780.4a7.7,7.7 0 1 0 15.4,0a7.7,7.7 0 1 0 -15.4,0zM1814.2,816.2a7.7,7.7 0 1 0 15.4,0a7.7,7.7 0 1 0 -15.4,0zM1785.8,794.0a7.7,7.7 0 1 0 15.4,0a7.7,7.7 0 1 0 -15.4,0zM1802.6,830.5a7.7,7.7 0 1 0 15.4,0a7.7,7.7 0 1 0 -15.4,0zM1775.0,807.4a7.7,7.7 0 1 0 15.4,0a7.7,7.7 0 1 0 -15.4,0zM1790.5,844.4a7.7,7.7 0 1 0 15.4,0a7.7,7.7 0 1 0 -15.4,0zM1763.8,820.4a7.7,7.7 0 1 0 15.4,0a7.7,7.7 0 1 0 -15.4,0zM1778.0,857.9a7.7,7.7 0 1 0 15.4,0a7.7,7.7 0 1 0 -15.4,0zM1752.0,833.0a7.7,7.7 0 1 0 15.4,0a7.7,7.7 0 1 0 -15.4,0zM1765.1,870.9a7.7,7.7 0 1 0 15.4,0a7.7,7.7 0 1 0 -15.4,0zM1739.9,845.2a7.7,7.7 0 1 0 15.4,0a7.7,7.7 0 1 0 -15.4,0zM1751.9,883.6a7.7,7.7 0 1 0 15.4,0a7.7,7.7 0 1 0 -15.4,0zM1727.4,857.1a7.7,7.7 0 1 0 15.4,0a7.7,7.7 0 1 0 -15.4,0zM1738.2,895.8a7.7,7.7 0 1 0 15.4,0a7.7,7.7 0 1 0 -15.4,0zM1714.6,868.7a7.7,7.7 0 1 0 15.4,0a7.7,7.7 0 1 0 -15.4,0zM1724.3,907.6a7.7,7.7 0 1 0 15.4,0a7.7,7.7 0 1 0 -15.4,0zM1701.4,879.9a7.7,7.7 0 1 0 15.4,0a7.7,7.7 0 1 0 -15.4,0zM1710.1,919.1a7.7,7.7 0 1 0 15.4,0a7.7,7.7 0 1 0 -15.4,0zM1687.9,890.8a7.7,7.7 0 1 0 15.4,0a7.7,7.7 0 1 0 -15.4,0zM1695.6,930.2a7.7,7.7 0 1 0 15.4,0a7.7,7.7 0 1 0 -15.4,0zM1674.1,901.3a7.7,7.7 0 1 0 15.4,0a7.7,7.7 0 1 0 -15.4,0zM1680.9,940.9a7.7,7.7 0 1 0 15.4,0a7.7,7.7 0 1 0 -15.4,0zM1660.1,911.5a7.7,7.7 0 1 0 15.4,0a7.7,7.7 0 1 0 -15.4,0zM1665.9,951.2a7.7,7.7 0 1 0 15.4,0a7.7,7.7 0 1 0 -15.4,0zM1645.8,921.4a7.7,7.7 0 1 0 15.4,0a7.7,7.7 0 1 0 -15.4,0zM1650.7,961.3a7.7,7.7 0 1 0 15.4,0a7.7,7.7 0 1 0 -15.4,0zM1631.2,931.0a7.7,7.7 0 1 0 15.4,0a7.7,7.7 0 1 0 -15.4,0zM1635.3,970.9a7.7,7.7 0 1 0 15.4,0a7.7,7.7 0 1 0 -15.4,0zM1616.5,940.2a7.7,7.7 0 1 0 15.4,0a7.7,7.7 0 1 0 -15.4,0zM1619.7,980.3a7.7,7.7 0 1 0 15.4,0a7.7,7.7 0 1 0 -15.4,0zM1601.6,949.2a7.7,7.7 0 1 0 15.4,0a7.7,7.7 0 1 0 -15.4,0zM1604.0,989.3a7.7,7.7 0 1 0 15.4,0a7.7,7.7 0 1 0 -15.4,0zM1586.4,957.9a7.7,7.7 0 1 0 15.4,0a7.7,7.7 0 1 0 -15.4,0zM1588.1,998.0a7.7,7.7 0 1 0 15.4,0a7.7,7.7 0 1 0 -15.4,0zM1571.1,966.2a7.7,7.7 0 1 0 15.4,0a7.7,7.7 0 1 0 -15.4,0zM1572.0,1006.4a7.7,7.7 0 1 0 15.4,0a7.7,7.7 0 1 0 -15.4,0zM1555.6,974.3a7.7,7.7 0 1 0 15.4,0a7.7,7.7 0 1 0 -15.4,0zM1555.8,1014.5a7.7,7.7 0 1 0 15.4,0a7.7,7.7 0 1 0 -15.4,0zM1540.0,982.1a7.7,7.7 0 1 0 15.4,0a7.7,7.7 0 1 0 -15.4,0zM1539.4,1022.3a7.7,7.7 0 1 0 15.4,0a7.7,7.7 0 1 0 -15.4,0zM1524.2,989.6a7.7,7.7 0 1 0 15.4,0a7.7,7.7 0 1 0 -15.4,0zM1523.0,1029.8a7.7,7.7 0 1 0 15.4,0a7.7,7.7 0 1 0 -15.4,0zM1508.3,996.9a7.7,7.7 0 1 0 15.4,0a7.7,7.7 0 1 0 -15.4,0zM1506.4,1037.0a7.7,7.7 0 1 0 15.4,0a7.7,7.7 0 1 0 -15.4,0zM1492.3,1003.9a7.7,7.7 0 1 0 15.4,0a7.7,7.7 0 1 0 -15.4,0zM1489.7,1043.9a7.7,7.7 0 1 0 15.4,0a7.7,7.7 0 1 0 -15.4,0zM1476.1,1010.6a7.7,7.7 0 1 0 15.4,0a7.7,7.7 0 1 0 -15.4,0zM1472.9,1050.6a7.7,7.7 0 1 0 15.4,0a7.7,7.7 0 1 0 -15.4,0zM1459.8,1017.0a7.7,7.7 0 1 0 15.4,0a7.7,7.7 0 1 0 -15.4,0zM1456.0,1057.0a7.7,7.7 0 1 0 15.4,0a7.7,7.7 0 1 0 -15.4,0zM1443.5,1023.3a7.7,7.7 0 1 0 15.4,0a7.7,7.7 0 1 0 -15.4,0zM1439.0,1063.2a7.7,7.7 0 1 0 15.4,0a7.7,7.7 0 1 0 -15.4,0zM1427.0,1029.2a7.7,7.7 0 1 0 15.4,0a7.7,7.7 0 1 0 -15.4,0zM1421.9,1069.1a7.7,7.7 0 1 0 15.4,0a7.7,7.7 0 1 0 -15.4,0zM1410.4,1034.9a7.7,7.7 0 1 0 15.4,0a7.7,7.7 0 1 0 -15.4,0zM1404.8,1074.7a7.7,7.7 0 1 0 15.4,0a7.7,7.7 0 1 0 -15.4,0zM1393.8,1040.4a7.7,7.7 0 1 0 15.4,0a7.7,7.7 0 1 0 -15.4,0zM1387.5,1080.1a7.7,7.7 0 1 0 15.4,0a7.7,7.7 0 1 0 -15.4,0zM1377.0,1045.7a7.7,7.7 0 1 0 15.4,0a7.7,7.7 0 1 0 -15.4,0zM1370.2,1085.2a7.7,7.7 0 1 0 15.4,0a7.7,7.7 0 1 0 -15.4,0zM1360.2,1050.7a7.7,7.7 0 1 0 15.4,0a7.7,7.7 0 1 0 -15.4,0zM1352.9,1090.1a7.7,7.7 0 1 0 15.4,0a7.7,7.7 0 1 0 -15.4,0zM1343.3,1055.4a7.7,7.7 0 1 0 15.4,0a7.7,7.7 0 1 0 -15.4,0zM1335.5,1094.8a7.7,7.7 0 1 0 15.4,0a7.7,7.7 0 1 0 -15.4,0zM1326.4,1060.0a7.7,7.7 0 1 0 15.4,0a7.7,7.7 0 1 0 -15.4,0zM1318.0,1099.3a7.7,7.7 0 1 0 15.4,0a7.7,7.7 0 1 0 -15.4,0zM1309.4,1064.3a7.7,7.7 0 1 0 15.4,0a7.7,7.7 0 1 0 -15.4,0zM1300.5,1103.5a7.7,7.7 0 1 0 15.4,0a7.7,7.7 0 1 0 -15.4,0zM1292.3,1068.4a7.7,7.7 0 1 0 15.4,0a7.7,7.7 0 1 0 -15.4,0zM1282.9,1107.4a7.7,7.7 0 1 0 15.4,0a7.7,7.7 0 1 0 -15.4,0zM1275.2,1072.3a7.7,7.7 0 1 0 15.4,0a7.7,7.7 0 1 0 -15.4,0zM1265.3,1111.2a7.7,7.7 0 1 0 15.4,0a7.7,7.7 0 1 0 -15.4,0zM1258.0,1075.9a7.7,7.7 0 1 0 15.4,0a7.7,7.7 0 1 0 -15.4,0zM1247.6,1114.7a7.7,7.7 0 1 0 15.4,0a7.7,7.7 0 1 0 -15.4,0zM1240.7,1079.4a7.7,7.7 0 1 0 15.4,0a7.7,7.7 0 1 0 -15.4,0zM1229.9,1118.1a7.7,7.7 0 1 0 15.4,0a7.7,7.7 0 1 0 -15.4,0zM1223.5,1082.6a7.7,7.7 0 1 0 15.4,0a7.7,7.7 0 1 0 -15.4,0zM1212.1,1121.2a7.7,7.7 0 1 0 15.4,0a7.7,7.7 0 1 0 -15.4,0zM1206.2,1085.7a7.7,7.7 0 1 0 15.4,0a7.7,7.7 0 1 0 -15.4,0zM1194.4,1124.0a7.7,7.7 0 1 0 15.4,0a7.7,7.7 0 1 0 -15.4,0zM1188.8,1088.5a7.7,7.7 0 1 0 15.4,0a7.7,7.7 0 1 0 -15.4,0zM1176.5,1126.7a7.7,7.7 0 1 0 15.4,0a7.7,7.7 0 1 0 -15.4,0zM1171.4,1091.1a7.7,7.7 0 1 0 15.4,0a7.7,7.7 0 1 0 -15.4,0zM1158.7,1129.2a7.7,7.7 0 1 0 15.4,0a7.7,7.7 0 1 0 -15.4,0zM1154.0,1093.5a7.7,7.7 0 1 0 15.4,0a7.7,7.7 0 1 0 -15.4,0zM1140.8,1131.4a7.7,7.7 0 1 0 15.4,0a7.7,7.7 0 1 0 -15.4,0zM1136.6,1095.7a7.7,7.7 0 1 0 15.4,0a7.7,7.7 0 1 0 -15.4,0zM1123.0,1133.5a7.7,7.7 0 1 0 15.4,0a7.7,7.7 0 1 0 -15.4,0zM1119.1,1097.7a7.7,7.7 0 1 0 15.4,0a7.7,7.7 0 1 0 -15.4,0zM1105.0,1135.3a7.7,7.7 0 1 0 15.4,0a7.7,7.7 0 1 0 -15.4,0zM1101.6,1099.4a7.7,7.7 0 1 0 15.4,0a7.7,7.7 0 1 0 -15.4,0zM1087.1,1136.9a7.7,7.7 0 1 0 15.4,0a7.7,7.7 0 1 0 -15.4,0zM1084.1,1101.0a7.7,7.7 0 1 0 15.4,0a7.7,7.7 0 1 0 -15.4,0zM1069.2,1138.3a7.7,7.7 0 1 0 15.4,0a7.7,7.7 0 1 0 -15.4,0zM1066.5,1102.4a7.7,7.7 0 1 0 15.4,0a7.7,7.7 0 1 0 -15.4,0zM1051.2,1139.5a7.7,7.7 0 1 0 15.4,0a7.7,7.7 0 1 0 -15.4,0zM1049.0,1103.6a7.7,7.7 0 1 0 15.4,0a7.7,7.7 0 1 0 -15.4,0zM1033.2,1140.6a7.7,7.7 0 1 0 15.4,0a7.7,7.7 0 1 0 -15.4,0zM1031.4,1104.6a7.7,7.7 0 1 0 15.4,0a7.7,7.7 0 1 0 -15.4,0zM1015.3,1141.4a7.7,7.7 0 1 0 15.4,0a7.7,7.7 0 1 0 -15.4,0zM1013.9,1105.4a7.7,7.7 0 1 0 15.4,0a7.7,7.7 0 1 0 -15.4,0zM997.3,1142.0a7.7,7.7 0 1 0 15.4,0a7.7,7.7 0 1 0 -15.4,0zM996.3,1106.0a7.7,7.7 0 1 0 15.4,0a7.7,7.7 0 1 0 -15.4,0zM979.3,1142.4a7.7,7.7 0 1 0 15.4,0a7.7,7.7 0 1 0 -15.4,0zM978.7,1106.4a7.7,7.7 0 1 0 15.4,0a7.7,7.7 0 1 0 -15.4,0zM961.3,1142.6a7.7,7.7 0 1 0 15.4,0a7.7,7.7 0 1 0 -15.4,0zM961.1,1106.6a7.7,7.7 0 1 0 15.4,0a7.7,7.7 0 1 0 -15.4,0zM943.3,1142.6a7.7,7.7 0 1 0 15.4,0a7.7,7.7 0 1 0 -15.4,0zM943.5,1106.6a7.7,7.7 0 1 0 15.4,0a7.7,7.7 0 1 0 -15.4,0zM925.3,1142.4a7.7,7.7 0 1 0 15.4,0a7.7,7.7 0 1 0 -15.4,0zM925.9,1106.4a7.7,7.7 0 1 0 15.4,0a7.7,7.7 0 1 0 -15.4,0zM907.3,1142.0a7.7,7.7 0 1 0 15.4,0a7.7,7.7 0 1 0 -15.4,0zM908.3,1106.0a7.7,7.7 0 1 0 15.4,0a7.7,7.7 0 1 0 -15.4,0zM889.3,1141.4a7.7,7.7 0 1 0 15.4,0a7.7,7.7 0 1 0 -15.4,0zM890.7,1105.4a7.7,7.7 0 1 0 15.4,0a7.7,7.7 0 1 0 -15.4,0zM871.4,1140.6a7.7,7.7 0 1 0 15.4,0a7.7,7.7 0 1 0 -15.4,0zM873.2,1104.6a7.7,7.7 0 1 0 15.4,0a7.7,7.7 0 1 0 -15.4,0zM853.4,1139.5a7.7,7.7 0 1 0 15.4,0a7.7,7.7 0 1 0 -15.4,0zM855.6,1103.6a7.7,7.7 0 1 0 15.4,0a7.7,7.7 0 1 0 -15.4,0zM835.4,1138.3a7.7,7.7 0 1 0 15.4,0a7.7,7.7 0 1 0 -15.4,0zM838.1,1102.4a7.7,7.7 0 1 0 15.4,0a7.7,7.7 0 1 0 -15.4,0zM817.5,1136.9a7.7,7.7 0 1 0 15.4,0a7.7,7.7 0 1 0 -15.4,0zM820.5,1101.0a7.7,7.7 0 1 0 15.4,0a7.7,7.7 0 1 0 -15.4,0zM799.6,1135.3a7.7,7.7 0 1 0 15.4,0a7.7,7.7 0 1 0 -15.4,0zM803.0,1099.4a7.7,7.7 0 1 0 15.4,0a7.7,7.7 0 1 0 -15.4,0zM781.6,1133.5a7.7,7.7 0 1 0 15.4,0a7.7,7.7 0 1 0 -15.4,0zM785.5,1097.7a7.7,7.7 0 1 0 15.4,0a7.7,7.7 0 1 0 -15.4,0zM763.8,1131.4a7.7,7.7 0 1 0 15.4,0a7.7,7.7 0 1 0 -15.4,0zM768.0,1095.7a7.7,7.7 0 1 0 15.4,0a7.7,7.7 0 1 0 -15.4,0zM745.9,1129.2a7.7,7.7 0 1 0 15.4,0a7.7,7.7 0 1 0 -15.4,0zM750.6,1093.5a7.7,7.7 0 1 0 15.4,0a7.7,7.7 0 1 0 -15.4,0zM728.1,1126.7a7.7,7.7 0 1 0 15.4,0a7.7,7.7 0 1 0 -15.4,0zM733.2,1091.1a7.7,7.7 0 1 0 15.4,0a7.7,7.7 0 1 0 -15.4,0zM710.2,1124.0a7.7,7.7 0 1 0 15.4,0a7.7,7.7 0 1 0 -15.4,0zM715.8,1088.5a7.7,7.7 0 1 0 15.4,0a7.7,7.7 0 1 0 -15.4,0zM692.5,1121.2a7.7,7.7 0 1 0 15.4,0a7.7,7.7 0 1 0 -15.4,0zM698.4,1085.7a7.7,7.7 0 1 0 15.4,0a7.7,7.7 0 1 0 -15.4,0zM674.7,1118.1a7.7,7.7 0 1 0 15.4,0a7.7,7.7 0 1 0 -15.4,0zM681.1,1082.6a7.7,7.7 0 1 0 15.4,0a7.7,7.7 0 1 0 -15.4,0zM657.0,1114.7a7.7,7.7 0 1 0 15.4,0a7.7,7.7 0 1 0 -15.4,0zM663.9,1079.4a7.7,7.7 0 1 0 15.4,0a7.7,7.7 0 1 0 -15.4,0zM639.3,1111.2a7.7,7.7 0 1 0 15.4,0a7.7,7.7 0 1 0 -15.4,0zM646.6,1075.9a7.7,7.7 0 1 0 15.4,0a7.7,7.7 0 1 0 -15.4,0zM621.7,1107.4a7.7,7.7 0 1 0 15.4,0a7.7,7.7 0 1 0 -15.4,0zM629.4,1072.3a7.7,7.7 0 1 0 15.4,0a7.7,7.7 0 1 0 -15.4,0zM604.1,1103.5a7.7,7.7 0 1 0 15.4,0a7.7,7.7 0 1 0 -15.4,0zM612.3,1068.4a7.7,7.7 0 1 0 15.4,0a7.7,7.7 0 1 0 -15.4,0zM586.6,1099.3a7.7,7.7 0 1 0 15.4,0a7.7,7.7 0 1 0 -15.4,0zM595.2,1064.3a7.7,7.7 0 1 0 15.4,0a7.7,7.7 0 1 0 -15.4,0zM569.1,1094.8a7.7,7.7 0 1 0 15.4,0a7.7,7.7 0 1 0 -15.4,0zM578.2,1060.0a7.7,7.7 0 1 0 15.4,0a7.7,7.7 0 1 0 -15.4,0zM551.7,1090.1a7.7,7.7 0 1 0 15.4,0a7.7,7.7 0 1 0 -15.4,0zM561.3,1055.4a7.7,7.7 0 1 0 15.4,0a7.7,7.7 0 1 0 -15.4,0zM534.4,1085.2a7.7,7.7 0 1 0 15.4,0a7.7,7.7 0 1 0 -15.4,0zM544.4,1050.7a7.7,7.7 0 1 0 15.4,0a7.7,7.7 0 1 0 -15.4,0zM517.1,1080.1a7.7,7.7 0 1 0 15.4,0a7.7,7.7 0 1 0 -15.4,0zM527.6,1045.7a7.7,7.7 0 1 0 15.4,0a7.7,7.7 0 1 0 -15.4,0zM499.8,1074.7a7.7,7.7 0 1 0 15.4,0a7.7,7.7 0 1 0 -15.4,0zM510.8,1040.4a7.7,7.7 0 1 0 15.4,0a7.7,7.7 0 1 0 -15.4,0zM482.7,1069.1a7.7,7.7 0 1 0 15.4,0a7.7,7.7 0 1 0 -15.4,0zM494.2,1034.9a7.7,7.7 0 1 0 15.4,0a7.7,7.7 0 1 0 -15.4,0zM465.6,1063.2a7.7,7.7 0 1 0 15.4,0a7.7,7.7 0 1 0 -15.4,0zM477.6,1029.2a7.7,7.7 0 1 0 15.4,0a7.7,7.7 0 1 0 -15.4,0zM448.6,1057.0a7.7,7.7 0 1 0 15.4,0a7.7,7.7 0 1 0 -15.4,0zM461.1,1023.3a7.7,7.7 0 1 0 15.4,0a7.7,7.7 0 1 0 -15.4,0zM431.7,1050.6a7.7,7.7 0 1 0 15.4,0a7.7,7.7 0 1 0 -15.4,0zM444.8,1017.0a7.7,7.7 0 1 0 15.4,0a7.7,7.7 0 1 0 -15.4,0zM414.9,1043.9a7.7,7.7 0 1 0 15.4,0a7.7,7.7 0 1 0 -15.4,0zM428.5,1010.6a7.7,7.7 0 1 0 15.4,0a7.7,7.7 0 1 0 -15.4,0zM398.2,1037.0a7.7,7.7 0 1 0 15.4,0a7.7,7.7 0 1 0 -15.4,0zM412.3,1003.9a7.7,7.7 0 1 0 15.4,0a7.7,7.7 0 1 0 -15.4,0zM381.6,1029.8a7.7,7.7 0 1 0 15.4,0a7.7,7.7 0 1 0 -15.4,0zM396.3,996.9a7.7,7.7 0 1 0 15.4,0a7.7,7.7 0 1 0 -15.4,0zM365.2,1022.3a7.7,7.7 0 1 0 15.4,0a7.7,7.7 0 1 0 -15.4,0zM380.4,989.6a7.7,7.7 0 1 0 15.4,0a7.7,7.7 0 1 0 -15.4,0zM348.8,1014.5a7.7,7.7 0 1 0 15.4,0a7.7,7.7 0 1 0 -15.4,0zM364.6,982.1a7.7,7.7 0 1 0 15.4,0a7.7,7.7 0 1 0 -15.4,0zM332.6,1006.4a7.7,7.7 0 1 0 15.4,0a7.7,7.7 0 1 0 -15.4,0zM349.0,974.3a7.7,7.7 0 1 0 15.4,0a7.7,7.7 0 1 0 -15.4,0zM316.5,998.0a7.7,7.7 0 1 0 15.4,0a7.7,7.7 0 1 0 -15.4,0zM333.5,966.2a7.7,7.7 0 1 0 15.4,0a7.7,7.7 0 1 0 -15.4,0zM300.6,989.3a7.7,7.7 0 1 0 15.4,0a7.7,7.7 0 1 0 -15.4,0zM318.2,957.9a7.7,7.7 0 1 0 15.4,0a7.7,7.7 0 1 0 -15.4,0zM284.9,980.3a7.7,7.7 0 1 0 15.4,0a7.7,7.7 0 1 0 -15.4,0zM303.0,949.2a7.7,7.7 0 1 0 15.4,0a7.7,7.7 0 1 0 -15.4,0zM269.3,970.9a7.7,7.7 0 1 0 15.4,0a7.7,7.7 0 1 0 -15.4,0zM288.1,940.2a7.7,7.7 0 1 0 15.4,0a7.7,7.7 0 1 0 -15.4,0zM253.9,961.3a7.7,7.7 0 1 0 15.4,0a7.7,7.7 0 1 0 -15.4,0zM273.4,931.0a7.7,7.7 0 1 0 15.4,0a7.7,7.7 0 1 0 -15.4,0zM238.7,951.2a7.7,7.7 0 1 0 15.4,0a7.7,7.7 0 1 0 -15.4,0zM258.8,921.4a7.7,7.7 0 1 0 15.4,0a7.7,7.7 0 1 0 -15.4,0zM223.7,940.9a7.7,7.7 0 1 0 15.4,0a7.7,7.7 0 1 0 -15.4,0zM244.5,911.5a7.7,7.7 0 1 0 15.4,0a7.7,7.7 0 1 0 -15.4,0zM209.0,930.2a7.7,7.7 0 1 0 15.4,0a7.7,7.7 0 1 0 -15.4,0zM230.5,901.3a7.7,7.7 0 1 0 15.4,0a7.7,7.7 0 1 0 -15.4,0zM194.5,919.1a7.7,7.7 0 1 0 15.4,0a7.7,7.7 0 1 0 -15.4,0zM216.7,890.8a7.7,7.7 0 1 0 15.4,0a7.7,7.7 0 1 0 -15.4,0zM180.3,907.6a7.7,7.7 0 1 0 15.4,0a7.7,7.7 0 1 0 -15.4,0zM203.2,879.9a7.7,7.7 0 1 0 15.4,0a7.7,7.7 0 1 0 -15.4,0zM166.4,895.8a7.7,7.7 0 1 0 15.4,0a7.7,7.7 0 1 0 -15.4,0zM190.0,868.7a7.7,7.7 0 1 0 15.4,0a7.7,7.7 0 1 0 -15.4,0zM152.7,883.6a7.7,7.7 0 1 0 15.4,0a7.7,7.7 0 1 0 -15.4,0zM177.2,857.1a7.7,7.7 0 1 0 15.4,0a7.7,7.7 0 1 0 -15.4,0zM139.5,870.9a7.7,7.7 0 1 0 15.4,0a7.7,7.7 0 1 0 -15.4,0zM164.7,845.2a7.7,7.7 0 1 0 15.4,0a7.7,7.7 0 1 0 -15.4,0zM126.6,857.9a7.7,7.7 0 1 0 15.4,0a7.7,7.7 0 1 0 -15.4,0zM152.6,833.0a7.7,7.7 0 1 0 15.4,0a7.7,7.7 0 1 0 -15.4,0zM114.1,844.4a7.7,7.7 0 1 0 15.4,0a7.7,7.7 0 1 0 -15.4,0zM140.8,820.4a7.7,7.7 0 1 0 15.4,0a7.7,7.7 0 1 0 -15.4,0zM102.0,830.5a7.7,7.7 0 1 0 15.4,0a7.7,7.7 0 1 0 -15.4,0zM129.6,807.4a7.7,7.7 0 1 0 15.4,0a7.7,7.7 0 1 0 -15.4,0zM90.4,816.2a7.7,7.7 0 1 0 15.4,0a7.7,7.7 0 1 0 -15.4,0zM118.8,794.0a7.7,7.7 0 1 0 15.4,0a7.7,7.7 0 1 0 -15.4,0zM79.3,801.5a7.7,7.7 0 1 0 15.4,0a7.7,7.7 0 1 0 -15.4,0zM108.5,780.4a7.7,7.7 0 1 0 15.4,0a7.7,7.7 0 1 0 -15.4,0zM68.7,786.3a7.7,7.7 0 1 0 15.4,0a7.7,7.7 0 1 0 -15.4,0zM98.7,766.3a7.7,7.7 0 1 0 15.4,0a7.7,7.7 0 1 0 -15.4,0zM58.8,770.7a7.7,7.7 0 1 0 15.4,0a7.7,7.7 0 1 0 -15.4,0zM89.5,751.9a7.7,7.7 0 1 0 15.4,0a7.7,7.7 0 1 0 -15.4,0zM49.4,754.7a7.7,7.7 0 1 0 15.4,0a7.7,7.7 0 1 0 -15.4,0zM80.9,737.2a7.7,7.7 0 1 0 15.4,0a7.7,7.7 0 1 0 -15.4,0zM40.8,738.2a7.7,7.7 0 1 0 15.4,0a7.7,7.7 0 1 0 -15.4,0zM73.0,722.2a7.7,7.7 0 1 0 15.4,0a7.7,7.7 0 1 0 -15.4,0zM32.9,721.4a7.7,7.7 0 1 0 15.4,0a7.7,7.7 0 1 0 -15.4,0zM65.8,706.8a7.7,7.7 0 1 0 15.4,0a7.7,7.7 0 1 0 -15.4,0zM25.7,704.1a7.7,7.7 0 1 0 15.4,0a7.7,7.7 0 1 0 -15.4,0zM59.3,691.2a7.7,7.7 0 1 0 15.4,0a7.7,7.7 0 1 0 -15.4,0zM19.4,686.6a7.7,7.7 0 1 0 15.4,0a7.7,7.7 0 1 0 -15.4,0zM53.6,675.2a7.7,7.7 0 1 0 15.4,0a7.7,7.7 0 1 0 -15.4,0zM14.0,668.7a7.7,7.7 0 1 0 15.4,0a7.7,7.7 0 1 0 -15.4,0zM48.7,659.1a7.7,7.7 0 1 0 15.4,0a7.7,7.7 0 1 0 -15.4,0zM9.5,650.5a7.7,7.7 0 1 0 15.4,0a7.7,7.7 0 1 0 -15.4,0zM44.6,642.7a7.7,7.7 0 1 0 15.4,0a7.7,7.7 0 1 0 -15.4,0zM5.9,632.1a7.7,7.7 0 1 0 15.4,0a7.7,7.7 0 1 0 -15.4,0zM41.4,626.2a7.7,7.7 0 1 0 15.4,0a7.7,7.7 0 1 0 -15.4,0zM3.4,613.5a7.7,7.7 0 1 0 15.4,0a7.7,7.7 0 1 0 -15.4,0zM39.1,609.5a7.7,7.7 0 1 0 15.4,0a7.7,7.7 0 1 0 -15.4,0zM1.8,594.8a7.7,7.7 0 1 0 15.4,0a7.7,7.7 0 1 0 -15.4,0zM37.8,592.8a7.7,7.7 0 1 0 15.4,0a7.7,7.7 0 1 0 -15.4,0zM1.3,576.0a7.7,7.7 0 1 0 15.4,0a7.7,7.7 0 1 0 -15.4,0zM37.3,576.0a7.7,7.7 0 1 0 15.4,0a7.7,7.7 0 1 0 -15.4,0zM1.8,557.2a7.7,7.7 0 1 0 15.4,0a7.7,7.7 0 1 0 -15.4,0zM37.8,559.2a7.7,7.7 0 1 0 15.4,0a7.7,7.7 0 1 0 -15.4,0zM3.4,538.5a7.7,7.7 0 1 0 15.4,0a7.7,7.7 0 1 0 -15.4,0zM39.1,542.5a7.7,7.7 0 1 0 15.4,0a7.7,7.7 0 1 0 -15.4,0zM5.9,519.9a7.7,7.7 0 1 0 15.4,0a7.7,7.7 0 1 0 -15.4,0zM41.4,525.8a7.7,7.7 0 1 0 15.4,0a7.7,7.7 0 1 0 -15.4,0zM9.5,501.5a7.7,7.7 0 1 0 15.4,0a7.7,7.7 0 1 0 -15.4,0zM44.6,509.3a7.7,7.7 0 1 0 15.4,0a7.7,7.7 0 1 0 -15.4,0zM14.0,483.3a7.7,7.7 0 1 0 15.4,0a7.7,7.7 0 1 0 -15.4,0zM48.7,492.9a7.7,7.7 0 1 0 15.4,0a7.7,7.7 0 1 0 -15.4,0zM19.4,465.4a7.7,7.7 0 1 0 15.4,0a7.7,7.7 0 1 0 -15.4,0zM53.6,476.8a7.7,7.7 0 1 0 15.4,0a7.7,7.7 0 1 0 -15.4,0zM25.7,447.9a7.7,7.7 0 1 0 15.4,0a7.7,7.7 0 1 0 -15.4,0zM59.3,460.8a7.7,7.7 0 1 0 15.4,0a7.7,7.7 0 1 0 -15.4,0zM32.9,430.6a7.7,7.7 0 1 0 15.4,0a7.7,7.7 0 1 0 -15.4,0zM65.8,445.2a7.7,7.7 0 1 0 15.4,0a7.7,7.7 0 1 0 -15.4,0zM40.8,413.8a7.7,7.7 0 1 0 15.4,0a7.7,7.7 0 1 0 -15.4,0zM73.0,429.8a7.7,7.7 0 1 0 15.4,0a7.7,7.7 0 1 0 -15.4,0zM49.4,397.3a7.7,7.7 0 1 0 15.4,0a7.7,7.7 0 1 0 -15.4,0zM80.9,414.8a7.7,7.7 0 1 0 15.4,0a7.7,7.7 0 1 0 -15.4,0zM58.8,381.3a7.7,7.7 0 1 0 15.4,0a7.7,7.7 0 1 0 -15.4,0zM89.5,400.1a7.7,7.7 0 1 0 15.4,0a7.7,7.7 0 1 0 -15.4,0zM68.7,365.7a7.7,7.7 0 1 0 15.4,0a7.7,7.7 0 1 0 -15.4,0zM98.7,385.7a7.7,7.7 0 1 0 15.4,0a7.7,7.7 0 1 0 -15.4,0zM79.3,350.5a7.7,7.7 0 1 0 15.4,0a7.7,7.7 0 1 0 -15.4,0zM108.5,371.6a7.7,7.7 0 1 0 15.4,0a7.7,7.7 0 1 0 -15.4,0zM90.4,335.8a7.7,7.7 0 1 0 15.4,0a7.7,7.7 0 1 0 -15.4,0zM118.8,358.0a7.7,7.7 0 1 0 15.4,0a7.7,7.7 0 1 0 -15.4,0zM102.0,321.5a7.7,7.7 0 1 0 15.4,0a7.7,7.7 0 1 0 -15.4,0zM129.6,344.6a7.7,7.7 0 1 0 15.4,0a7.7,7.7 0 1 0 -15.4,0zM114.1,307.6a7.7,7.7 0 1 0 15.4,0a7.7,7.7 0 1 0 -15.4,0zM140.8,331.6a7.7,7.7 0 1 0 15.4,0a7.7,7.7 0 1 0 -15.4,0zM126.6,294.1a7.7,7.7 0 1 0 15.4,0a7.7,7.7 0 1 0 -15.4,0zM152.6,319.0a7.7,7.7 0 1 0 15.4,0a7.7,7.7 0 1 0 -15.4,0zM139.5,281.1a7.7,7.7 0 1 0 15.4,0a7.7,7.7 0 1 0 -15.4,0zM164.7,306.8a7.7,7.7 0 1 0 15.4,0a7.7,7.7 0 1 0 -15.4,0zM152.7,268.4a7.7,7.7 0 1 0 15.4,0a7.7,7.7 0 1 0 -15.4,0zM177.2,294.9a7.7,7.7 0 1 0 15.4,0a7.7,7.7 0 1 0 -15.4,0zM166.4,256.2a7.7,7.7 0 1 0 15.4,0a7.7,7.7 0 1 0 -15.4,0zM190.0,283.3a7.7,7.7 0 1 0 15.4,0a7.7,7.7 0 1 0 -15.4,0zM180.3,244.4a7.7,7.7 0 1 0 15.4,0a7.7,7.7 0 1 0 -15.4,0zM203.2,272.1a7.7,7.7 0 1 0 15.4,0a7.7,7.7 0 1 0 -15.4,0zM194.5,232.9a7.7,7.7 0 1 0 15.4,0a7.7,7.7 0 1 0 -15.4,0zM216.7,261.2a7.7,7.7 0 1 0 15.4,0a7.7,7.7 0 1 0 -15.4,0zM209.0,221.8a7.7,7.7 0 1 0 15.4,0a7.7,7.7 0 1 0 -15.4,0zM230.5,250.7a7.7,7.7 0 1 0 15.4,0a7.7,7.7 0 1 0 -15.4,0zM223.7,211.1a7.7,7.7 0 1 0 15.4,0a7.7,7.7 0 1 0 -15.4,0zM244.5,240.5a7.7,7.7 0 1 0 15.4,0a7.7,7.7 0 1 0 -15.4,0zM238.7,200.8a7.7,7.7 0 1 0 15.4,0a7.7,7.7 0 1 0 -15.4,0zM258.8,230.6a7.7,7.7 0 1 0 15.4,0a7.7,7.7 0 1 0 -15.4,0zM253.9,190.7a7.7,7.7 0 1 0 15.4,0a7.7,7.7 0 1 0 -15.4,0zM273.4,221.0a7.7,7.7 0 1 0 15.4,0a7.7,7.7 0 1 0 -15.4,0zM269.3,181.1a7.7,7.7 0 1 0 15.4,0a7.7,7.7 0 1 0 -15.4,0zM288.1,211.8a7.7,7.7 0 1 0 15.4,0a7.7,7.7 0 1 0 -15.4,0zM284.9,171.7a7.7,7.7 0 1 0 15.4,0a7.7,7.7 0 1 0 -15.4,0zM303.0,202.8a7.7,7.7 0 1 0 15.4,0a7.7,7.7 0 1 0 -15.4,0zM300.6,162.7a7.7,7.7 0 1 0 15.4,0a7.7,7.7 0 1 0 -15.4,0zM318.2,194.1a7.7,7.7 0 1 0 15.4,0a7.7,7.7 0 1 0 -15.4,0zM316.5,154.0a7.7,7.7 0 1 0 15.4,0a7.7,7.7 0 1 0 -15.4,0zM333.5,185.8a7.7,7.7 0 1 0 15.4,0a7.7,7.7 0 1 0 -15.4,0zM332.6,145.6a7.7,7.7 0 1 0 15.4,0a7.7,7.7 0 1 0 -15.4,0zM349.0,177.7a7.7,7.7 0 1 0 15.4,0a7.7,7.7 0 1 0 -15.4,0zM348.8,137.5a7.7,7.7 0 1 0 15.4,0a7.7,7.7 0 1 0 -15.4,0zM364.6,169.9a7.7,7.7 0 1 0 15.4,0a7.7,7.7 0 1 0 -15.4,0zM365.2,129.7a7.7,7.7 0 1 0 15.4,0a7.7,7.7 0 1 0 -15.4,0zM380.4,162.4a7.7,7.7 0 1 0 15.4,0a7.7,7.7 0 1 0 -15.4,0zM381.6,122.2a7.7,7.7 0 1 0 15.4,0a7.7,7.7 0 1 0 -15.4,0zM396.3,155.1a7.7,7.7 0 1 0 15.4,0a7.7,7.7 0 1 0 -15.4,0zM398.2,115.0a7.7,7.7 0 1 0 15.4,0a7.7,7.7 0 1 0 -15.4,0zM412.3,148.1a7.7,7.7 0 1 0 15.4,0a7.7,7.7 0 1 0 -15.4,0zM414.9,108.1a7.7,7.7 0 1 0 15.4,0a7.7,7.7 0 1 0 -15.4,0zM428.5,141.4a7.7,7.7 0 1 0 15.4,0a7.7,7.7 0 1 0 -15.4,0zM431.7,101.4a7.7,7.7 0 1 0 15.4,0a7.7,7.7 0 1 0 -15.4,0zM444.8,135.0a7.7,7.7 0 1 0 15.4,0a7.7,7.7 0 1 0 -15.4,0zM448.6,95.0a7.7,7.7 0 1 0 15.4,0a7.7,7.7 0 1 0 -15.4,0zM461.1,128.7a7.7,7.7 0 1 0 15.4,0a7.7,7.7 0 1 0 -15.4,0zM465.6,88.8a7.7,7.7 0 1 0 15.4,0a7.7,7.7 0 1 0 -15.4,0zM477.6,122.8a7.7,7.7 0 1 0 15.4,0a7.7,7.7 0 1 0 -15.4,0zM482.7,82.9a7.7,7.7 0 1 0 15.4,0a7.7,7.7 0 1 0 -15.4,0zM494.2,117.1a7.7,7.7 0 1 0 15.4,0a7.7,7.7 0 1 0 -15.4,0zM499.8,77.3a7.7,7.7 0 1 0 15.4,0a7.7,7.7 0 1 0 -15.4,0zM510.8,111.6a7.7,7.7 0 1 0 15.4,0a7.7,7.7 0 1 0 -15.4,0zM517.1,71.9a7.7,7.7 0 1 0 15.4,0a7.7,7.7 0 1 0 -15.4,0zM527.6,106.3a7.7,7.7 0 1 0 15.4,0a7.7,7.7 0 1 0 -15.4,0zM534.4,66.8a7.7,7.7 0 1 0 15.4,0a7.7,7.7 0 1 0 -15.4,0zM544.4,101.3a7.7,7.7 0 1 0 15.4,0a7.7,7.7 0 1 0 -15.4,0zM551.7,61.9a7.7,7.7 0 1 0 15.4,0a7.7,7.7 0 1 0 -15.4,0zM561.3,96.6a7.7,7.7 0 1 0 15.4,0a7.7,7.7 0 1 0 -15.4,0zM569.1,57.2a7.7,7.7 0 1 0 15.4,0a7.7,7.7 0 1 0 -15.4,0zM578.2,92.0a7.7,7.7 0 1 0 15.4,0a7.7,7.7 0 1 0 -15.4,0zM586.6,52.7a7.7,7.7 0 1 0 15.4,0a7.7,7.7 0 1 0 -15.4,0zM595.2,87.7a7.7,7.7 0 1 0 15.4,0a7.7,7.7 0 1 0 -15.4,0zM604.1,48.5a7.7,7.7 0 1 0 15.4,0a7.7,7.7 0 1 0 -15.4,0zM612.3,83.6a7.7,7.7 0 1 0 15.4,0a7.7,7.7 0 1 0 -15.4,0zM621.7,44.6a7.7,7.7 0 1 0 15.4,0a7.7,7.7 0 1 0 -15.4,0zM629.4,79.7a7.7,7.7 0 1 0 15.4,0a7.7,7.7 0 1 0 -15.4,0zM639.3,40.8a7.7,7.7 0 1 0 15.4,0a7.7,7.7 0 1 0 -15.4,0zM646.6,76.1a7.7,7.7 0 1 0 15.4,0a7.7,7.7 0 1 0 -15.4,0zM657.0,37.3a7.7,7.7 0 1 0 15.4,0a7.7,7.7 0 1 0 -15.4,0zM663.9,72.6a7.7,7.7 0 1 0 15.4,0a7.7,7.7 0 1 0 -15.4,0zM674.7,33.9a7.7,7.7 0 1 0 15.4,0a7.7,7.7 0 1 0 -15.4,0zM681.1,69.4a7.7,7.7 0 1 0 15.4,0a7.7,7.7 0 1 0 -15.4,0zM692.5,30.8a7.7,7.7 0 1 0 15.4,0a7.7,7.7 0 1 0 -15.4,0zM698.4,66.3a7.7,7.7 0 1 0 15.4,0a7.7,7.7 0 1 0 -15.4,0zM710.2,28.0a7.7,7.7 0 1 0 15.4,0a7.7,7.7 0 1 0 -15.4,0zM715.8,63.5a7.7,7.7 0 1 0 15.4,0a7.7,7.7 0 1 0 -15.4,0zM728.1,25.3a7.7,7.7 0 1 0 15.4,0a7.7,7.7 0 1 0 -15.4,0zM733.2,60.9a7.7,7.7 0 1 0 15.4,0a7.7,7.7 0 1 0 -15.4,0zM745.9,22.8a7.7,7.7 0 1 0 15.4,0a7.7,7.7 0 1 0 -15.4,0zM750.6,58.5a7.7,7.7 0 1 0 15.4,0a7.7,7.7 0 1 0 -15.4,0zM763.8,20.6a7.7,7.7 0 1 0 15.4,0a7.7,7.7 0 1 0 -15.4,0zM768.0,56.3a7.7,7.7 0 1 0 15.4,0a7.7,7.7 0 1 0 -15.4,0zM781.6,18.5a7.7,7.7 0 1 0 15.4,0a7.7,7.7 0 1 0 -15.4,0zM785.5,54.3a7.7,7.7 0 1 0 15.4,0a7.7,7.7 0 1 0 -15.4,0zM799.6,16.7a7.7,7.7 0 1 0 15.4,0a7.7,7.7 0 1 0 -15.4,0zM803.0,52.6a7.7,7.7 0 1 0 15.4,0a7.7,7.7 0 1 0 -15.4,0zM817.5,15.1a7.7,7.7 0 1 0 15.4,0a7.7,7.7 0 1 0 -15.4,0zM820.5,51.0a7.7,7.7 0 1 0 15.4,0a7.7,7.7 0 1 0 -15.4,0zM835.4,13.7a7.7,7.7 0 1 0 15.4,0a7.7,7.7 0 1 0 -15.4,0zM838.1,49.6a7.7,7.7 0 1 0 15.4,0a7.7,7.7 0 1 0 -15.4,0zM853.4,12.5a7.7,7.7 0 1 0 15.4,0a7.7,7.7 0 1 0 -15.4,0zM855.6,48.4a7.7,7.7 0 1 0 15.4,0a7.7,7.7 0 1 0 -15.4,0zM871.4,11.4a7.7,7.7 0 1 0 15.4,0a7.7,7.7 0 1 0 -15.4,0zM873.2,47.4a7.7,7.7 0 1 0 15.4,0a7.7,7.7 0 1 0 -15.4,0zM889.3,10.6a7.7,7.7 0 1 0 15.4,0a7.7,7.7 0 1 0 -15.4,0zM890.7,46.6a7.7,7.7 0 1 0 15.4,0a7.7,7.7 0 1 0 -15.4,0zM907.3,10.0a7.7,7.7 0 1 0 15.4,0a7.7,7.7 0 1 0 -15.4,0zM908.3,46.0a7.7,7.7 0 1 0 15.4,0a7.7,7.7 0 1 0 -15.4,0zM925.3,9.6a7.7,7.7 0 1 0 15.4,0a7.7,7.7 0 1 0 -15.4,0zM925.9,45.6a7.7,7.7 0 1 0 15.4,0a7.7,7.7 0 1 0 -15.4,0zM943.3,9.4a7.7,7.7 0 1 0 15.4,0a7.7,7.7 0 1 0 -15.4,0zM943.5,45.4a7.7,7.7 0 1 0 15.4,0a7.7,7.7 0 1 0 -15.4,0z" fill="#eddfb0" stroke-width="1.5"/>
<path d="M976.0,459.8L975.8,495.8M980.7,459.8L980.5,495.8M993.6,460.0L993.0,496.0M998.3,460.1L997.7,496.1M1011.2,460.4L1010.2,496.4M1015.9,460.5L1014.9,496.5M1028.8,461.0L1027.3,496.9M1033.5,461.2L1032.0,497.1M1046.4,461.8L1044.5,497.7M1051.1,462.0L1049.2,498.0M1064.0,462.8L1061.7,498.7M1068.7,463.1L1066.4,499.0M1081.6,464.0L1078.9,499.9M1086.3,464.4L1083.5,500.3M1099.2,465.4L1096.0,501.3M1103.9,465.9L1100.7,501.7M1116.8,467.1L1113.1,502.9M1121.4,467.6L1117.8,503.4M1134.3,469.0L1130.2,504.7M1139.0,469.5L1134.9,505.3M1151.8,471.1L1147.3,506.8M1156.5,471.7L1151.9,507.4M1169.3,473.4L1164.3,509.0M1174.0,474.1L1168.9,509.7M1186.8,476.0L1181.3,511.5M1191.4,476.7L1185.9,512.3M1204.2,478.8L1198.2,514.3M1208.9,479.5L1202.9,515.0M1221.6,481.8L1215.1,517.2M1226.3,482.7L1219.7,518.1M1239.0,485.1L1232.0,520.4M1243.6,486.0L1236.6,521.3M1256.3,488.7L1248.8,523.9M1260.9,489.7L1253.3,524.8M1273.6,492.5L1265.5,527.6M1278.2,493.6L1270.1,528.6M1290.9,496.6L1282.1,531.5M1295.4,497.7L1286.7,532.7M1308.0,501.0L1298.7,535.8M1312.6,502.2L1303.2,537.0M1325.1,505.7L1315.2,540.3M1329.6,507.0L1319.7,541.6M1342.2,510.8L1331.5,545.2M1346.6,512.1L1336.0,546.5M1359.1,516.1L1347.8,550.3M1363.6,517.6L1352.3,551.8M1376.0,521.8L1363.9,555.8M1380.4,523.4L1368.4,557.3M1392.7,527.9L1379.9,561.6M1397.1,529.6L1384.3,563.3M1409.3,534.4L1395.7,567.8M1413.7,536.2L1400.1,569.5M1425.8,541.4L1411.3,574.3M1430.1,543.3L1415.6,576.2M1442.2,548.8L1426.7,581.3M1446.4,550.8L1431.0,583.3M1458.3,556.6L1441.9,588.7M1462.5,558.8L1446.1,590.8M1474.3,565.1L1456.7,596.5M1478.4,567.4L1460.8,598.8M1489.9,574.1L1471.2,604.9M1494.0,576.6L1475.2,607.3M1505.3,583.8L1485.3,613.7M1509.2,586.4L1489.2,616.3M1520.3,594.2L1498.9,623.2M1524.1,597.0L1502.7,626.0M1534.9,605.5L1511.9,633.2M1538.5,608.5L1515.5,636.2M1548.9,617.6L1524.2,643.8M1552.3,620.8L1527.7,647.1M1562.2,630.8L1535.7,655.2M1565.4,634.3L1538.9,658.6M1574.6,645.1L1546.1,667.2M1577.4,648.9L1549.0,670.9M1585.7,660.8L1555.2,679.8M1588.2,664.7L1557.7,683.8M1595.4,677.7L1562.8,693.1M1597.4,682.0L1564.8,697.4M1602.9,696.0L1568.6,706.9M1604.3,700.5L1570.0,711.4M1607.9,715.5L1572.4,721.2M1608.7,720.1L1573.1,725.8M1609.9,735.6L1573.9,735.6M1609.9,740.3L1573.9,740.3M1608.7,755.9L1573.1,750.2M1607.9,760.5L1572.4,754.8M1604.3,775.5L1570.0,764.6M1602.9,780.0L1568.6,769.1M1597.4,794.0L1564.8,778.6M1595.4,798.3L1562.8,782.9M1588.2,811.3L1557.7,792.2M1585.7,815.2L1555.2,796.2M1577.4,827.1L1549.0,805.1M1574.6,830.9L1546.1,808.8M1565.4,841.7L1538.9,817.4M1562.2,845.2L1535.7,820.8M1552.3,855.2L1527.7,828.9M1548.9,858.4L1524.2,832.2M1538.5,867.5L1515.5,839.8M1534.9,870.5L1511.9,842.8M1524.1,879.0L1502.7,850.0M1520.3,881.8L1498.9,852.8M1509.2,889.6L1489.2,859.7M1505.3,892.2L1485.3,862.3M1494.0,899.4L1475.2,868.7M1489.9,901.9L1471.2,871.1M1478.4,908.6L1460.8,877.2M1474.3,910.9L1456.7,879.5M1462.5,917.2L1446.1,885.2M1458.3,919.4L1441.9,887.3M1446.4,925.2L1431.0,892.7M1442.2,927.2L1426.7,894.7M1430.1,932.7L1415.6,899.8M1425.8,934.6L1411.3,901.7M1413.7,939.8L1400.1,906.5M1409.3,941.6L1395.7,908.2M1397.1,946.4L1384.3,912.7M1392.7,948.1L1379.9,914.4M1380.4,952.6L1368.4,918.7M1376.0,954.2L1363.9,920.2M1363.6,958.4L1352.3,924.2M1359.1,959.9L1347.8,925.7M1346.6,963.9L1336.0,929.5M1342.2,965.2L1331.5,930.8M1329.6,969.0L1319.7,934.4M1325.1,970.3L1315.2,935.7M1312.6,973.8L1303.2,939.0M1308.0,975.0L1298.7,940.2M1295.4,978.3L1286.7,943.3M1290.9,979.4L1282.1,944.5M1278.2,982.4L1270.1,947.4M1273.6,983.5L1265.5,948.4M1260.9,986.3L1253.3,951.2M1256.3,987.3L1248.8,952.1M1243.6,990.0L1236.6,954.7M1239.0,990.9L1232.0,955.6M1226.3,993.3L1219.7,957.9M1221.6,994.2L1215.1,958.8M1208.9,996.5L1202.9,961.0M1204.2,997.2L1198.2,961.7M1191.4,999.3L1185.9,963.7M1186.8,1000.0L1181.3,964.5M1174.0,1001.9L1168.9,966.3M1169.3,1002.6L1164.3,967.0M1156.5,1004.3L1151.9,968.6M1151.8,1004.9L1147.3,969.2M1139.0,1006.5L1134.9,970.7M1134.3,1007.0L1130.2,971.3M1121.4,1008.4L1117.8,972.6M1116.8,1008.9L1113.1,973.1M1103.9,1010.1L1100.7,974.3M1099.2,1010.6L1096.0,974.7M1086.3,1011.6L1083.5,975.7M1081.6,1012.0L1078.9,976.1M1068.7,1012.9L1066.4,977.0M1064.0,1013.2L1061.7,977.3M1051.1,1014.0L1049.2,978.0M1046.4,1014.2L1044.5,978.3M1033.5,1014.8L1032.0,978.9M1028.8,1015.0L1027.3,979.1M1015.9,1015.5L1014.9,979.5M1011.2,1015.6L1010.2,979.6M998.3,1015.9L997.7,979.9M993.6,1016.0L993.0,980.0M980.7,1016.2L980.5,980.2M976.0,1016.2L975.8,980.2M963.0,1016.2L963.2,980.2M958.3,1016.2L958.5,980.2M945.4,1016.0L946.0,980.0M940.7,1015.9L941.3,979.9M927.8,1015.6L928.8,979.6M923.1,1015.5L924.1,979.5M910.2,1015.0L911.7,979.1M905.5,1014.8L907.0,978.9M892.6,1014.2L894.5,978.3M887.9,1014.0L889.8,978.0M875.0,1013.2L877.3,977.3M870.3,1012.9L872.6,977.0M857.4,1012.0L860.1,976.1M852.7,1011.6L855.5,975.7M839.8,1010.6L843.0,974.7M835.1,1010.1L838.3,974.3M822.2,1008.9L825.9,973.1M817.6,1008.4L821.2,972.6M804.7,1007.0L808.8,971.3M800.0,1006.5L804.1,970.7M787.2,1004.9L791.7,969.2M782.5,1004.3L787.1,968.6M769.7,1002.6L774.7,967.0M765.0,1001.9L770.1,966.3M752.2,1000.0L757.7,964.5M747.6,999.3L753.1,963.7M734.8,997.2L740.8,961.7M730.1,996.5L736.1,961.0M717.4,994.2L723.9,958.8M712.7,993.3L719.3,957.9M700.0,990.9L707.0,955.6M695.4,990.0L702.4,954.7M682.7,987.3L690.2,952.1M678.1,986.3L685.7,951.2M665.4,983.5L673.5,948.4M660.8,982.4L668.9,947.4M648.1,979.4L656.9,944.5M643.6,978.3L652.3,943.3M631.0,975.0L640.3,940.2M626.4,973.8L635.8,939.0M613.9,970.3L623.8,935.7M609.4,969.0L619.3,934.4M596.8,965.2L607.5,930.8M592.4,963.9L603.0,929.5M579.9,959.9L591.2,925.7M575.4,958.4L586.7,924.2M563.0,954.2L575.1,920.2M558.6,952.6L570.6,918.7M546.3,948.1L559.1,914.4M541.9,946.4L554.7,912.7M529.7,941.6L543.3,908.2M525.3,939.8L538.9,906.5M513.2,934.6L527.7,901.7M508.9,932.7L523.4,899.8M496.8,927.2L512.3,894.7M492.6,925.2L508.0,892.7M480.7,919.4L497.1,887.3M476.5,917.2L492.9,885.2M464.7,910.9L482.3,879.5M460.6,908.6L478.2,877.2M449.1,901.9L467.8,871.1M445.0,899.4L463.8,868.7M433.7,892.2L453.7,862.3M429.8,889.6L449.8,859.7M418.7,881.8L440.1,852.8M414.9,879.0L436.3,850.0M404.1,870.5L427.1,842.8M400.5,867.5L423.5,839.8M390.1,858.4L414.8,832.2M386.7,855.2L411.3,828.9M376.8,845.2L403.3,820.8M373.6,841.7L400.1,817.4M364.4,830.9L392.9,808.8M361.6,827.1L390.0,805.1M353.3,815.2L383.8,796.2M350.8,811.3L381.3,792.2M343.6,798.3L376.2,782.9M341.6,794.0L374.2,778.6M336.1,780.0L370.4,769.1M334.7,775.5L369.0,764.6M331.1,760.5L366.6,754.8M330.3,755.9L365.9,750.2M329.1,740.3L365.1,740.3M329.1,735.6L365.1,735.6M330.3,720.1L365.9,725.8M331.1,715.5L366.6,721.2M334.7,700.5L369.0,711.4M336.1,696.0L370.4,706.9M341.6,682.0L374.2,697.4M343.6,677.7L376.2,693.1M350.8,664.7L381.3,683.8M353.3,660.8L383.8,679.8M361.6,648.9L390.0,670.9M364.4,645.1L392.9,667.2M373.6,634.3L400.1,658.6M376.8,630.8L403.3,655.2M386.7,620.8L411.3,647.1M390.1,617.6L414.8,643.8M400.5,608.5L423.5,636.2M404.1,605.5L427.1,633.2M414.9,597.0L436.3,626.0M418.7,594.2L440.1,623.2M429.8,586.4L449.8,616.3M433.7,583.8L453.7,613.7M445.0,576.6L463.8,607.3M449.1,574.1L467.8,604.9M460.6,567.4L478.2,598.8M464.7,565.1L482.3,596.5M476.5,558.8L492.9,590.8M480.7,556.6L497.1,588.7M492.6,550.8L508.0,583.3M496.8,548.8L512.3,581.3M508.9,543.3L523.4,576.2M513.2,541.4L527.7,574.3M525.3,536.2L538.9,569.5M529.7,534.4L543.3,567.8M541.9,529.6L554.7,563.3M546.3,527.9L559.1,561.6M558.6,523.4L570.6,557.3M563.0,521.8L575.1,555.8M575.4,517.6L586.7,551.8M579.9,516.1L591.2,550.3M592.4,512.1L603.0,546.5M596.8,510.8L607.5,545.2M609.4,507.0L619.3,541.6M613.9,505.7L623.8,540.3M626.4,502.2L635.8,537.0M631.0,501.0L640.3,535.8M643.6,497.7L652.3,532.7M648.1,496.6L656.9,531.5M660.8,493.6L668.9,528.6M665.4,492.5L673.5,527.6M678.1,489.7L685.7,524.8M682.7,488.7L690.2,523.9M695.4,486.0L702.4,521.3M700.0,485.1L707.0,520.4M712.7,482.7L719.3,518.1M717.4,481.8L723.9,517.2M730.1,479.5L736.1,515.0M734.8,478.8L740.8,514.3M747.6,476.7L753.1,512.3M752.2,476.0L757.7,511.5M765.0,474.1L770.1,509.7M769.7,473.4L774.7,509.0M782.5,471.7L787.1,507.4M787.2,471.1L791.7,506.8M800.0,469.5L804.1,505.3M804.7,469.0L808.8,504.7M817.6,467.6L821.2,503.4M822.2,467.1L825.9,502.9M835.1,465.9L838.3,501.7M839.8,465.4L843.0,501.3M852.7,464.4L855.5,500.3M857.4,464.0L860.1,499.9M870.3,463.1L872.6,499.0M875.0,462.8L877.3,498.7M887.9,462.0L889.8,498.0M892.6,461.8L894.5,497.7M905.5,461.2L907.0,497.1M910.2,461.0L911.7,496.9M923.1,460.5L924.1,496.5M927.8,460.4L928.8,496.4M940.7,460.1L941.3,496.1M945.4,460.0L946.0,496.0M958.3,459.8L958.5,495.8M963.0,459.8L963.2,495.8" fill="none" stroke-width="1.75"/>
<path d="M970.6,459.8a7.7,7.7 0 1 0 15.4,0a7.7,7.7 0 1 0 -15.4,0zM970.4,495.8a7.7,7.7 0 1 0 15.4,0a7.7,7.7 0 1 0 -15.4,0zM988.2,460.0a7.7,7.7 0 1 0 15.4,0a7.7,7.7 0 1 0 -15.4,0zM987.6,496.0a7.7,7.7 0 1 0 15.4,0a7.7,7.7 0 1 0 -15.4,0zM1005.9,460.4a7.7,7.7 0 1 0 15.4,0a7.7,7.7 0 1 0 -15.4,0zM1004.8,496.4a7.7,7.7 0 1 0 15.4,0a7.7,7.7 0 1 0 -15.4,0zM1023.5,461.1a7.7,7.7 0 1 0 15.4,0a7.7,7.7 0 1 0 -15.4,0zM1022.0,497.0a7.7,7.7 0 1 0 15.4,0a7.7,7.7 0 1 0 -15.4,0zM1041.1,461.9a7.7,7.7 0 1 0 15.4,0a7.7,7.7 0 1 0 -15.4,0zM1039.2,497.8a7.7,7.7 0 1 0 15.4,0a7.7,7.7 0 1 0 -15.4,0zM1058.7,462.9a7.7,7.7 0 1 0 15.4,0a7.7,7.7 0 1 0 -15.4,0zM1056.3,498.9a7.7,7.7 0 1 0 15.4,0a7.7,7.7 0 1 0 -15.4,0zM1076.3,464.2a7.7,7.7 0 1 0 15.4,0a7.7,7.7 0 1 0 -15.4,0zM1073.5,500.1a7.7,7.7 0 1 0 15.4,0a7.7,7.7 0 1 0 -15.4,0zM1093.8,465.6a7.7,7.7 0 1 0 15.4,0a7.7,7.7 0 1 0 -15.4,0zM1090.6,501.5a7.7,7.7 0 1 0 15.4,0a7.7,7.7 0 1 0 -15.4,0zM1111.4,467.3a7.7,7.7 0 1 0 15.4,0a7.7,7.7 0 1 0 -15.4,0zM1107.7,503.1a7.7,7.7 0 1 0 15.4,0a7.7,7.7 0 1 0 -15.4,0zM1128.9,469.2a7.7,7.7 0 1 0 15.4,0a7.7,7.7 0 1 0 -15.4,0zM1124.8,505.0a7.7,7.7 0 1 0 15.4,0a7.7,7.7 0 1 0 -15.4,0zM1146.5,471.4a7.7,7.7 0 1 0 15.4,0a7.7,7.7 0 1 0 -15.4,0zM1141.9,507.1a7.7,7.7 0 1 0 15.4,0a7.7,7.7 0 1 0 -15.4,0zM1164.0,473.7a7.7,7.7 0 1 0 15.4,0a7.7,7.7 0 1 0 -15.4,0zM1158.9,509.4a7.7,7.7 0 1 0 15.4,0a7.7,7.7 0 1 0 -15.4,0zM1181.4,476.3a7.7,7.7 0 1 0 15.4,0a7.7,7.7 0 1 0 -15.4,0zM1175.9,511.9a7.7,7.7 0 1 0 15.4,0a7.7,7.7 0 1 0 -15.4,0zM1198.9,479.2a7.7,7.7 0 1 0 15.4,0a7.7,7.7 0 1 0 -15.4,0zM1192.8,514.6a7.7,7.7 0 1 0 15.4,0a7.7,7.7 0 1 0 -15.4,0zM1216.3,482.2a7.7,7.7 0 1 0 15.4,0a7.7,7.7 0 1 0 -15.4,0zM1209.7,517.6a7.7,7.7 0 1 0 15.4,0a7.7,7.7 0 1 0 -15.4,0zM1233.6,485.6a7.7,7.7 0 1 0 15.4,0a7.7,7.7 0 1 0 -15.4,0zM1226.6,520.9a7.7,7.7 0 1 0 15.4,0a7.7,7.7 0 1 0 -15.4,0zM1250.9,489.2a7.7,7.7 0 1 0 15.4,0a7.7,7.7 0 1 0 -15.4,0zM1243.3,524.4a7.7,7.7 0 1 0 15.4,0a7.7,7.7 0 1 0 -15.4,0zM1268.2,493.0a7.7,7.7 0 1 0 15.4,0a7.7,7.7 0 1 0 -15.4,0zM1260.1,528.1a7.7,7.7 0 1 0 15.4,0a7.7,7.7 0 1 0 -15.4,0zM1285.4,497.2a7.7,7.7 0 1 0 15.4,0a7.7,7.7 0 1 0 -15.4,0zM1276.7,532.1a7.7,7.7 0 1 0 15.4,0a7.7,7.7 0 1 0 -15.4,0zM1302.6,501.6a7.7,7.7 0 1 0 15.4,0a7.7,7.7 0 1 0 -15.4,0zM1293.3,536.4a7.7,7.7 0 1 0 15.4,0a7.7,7.7 0 1 0 -15.4,0zM1319.7,506.4a7.7,7.7 0 1 0 15.4,0a7.7,7.7 0 1 0 -15.4,0zM1309.7,541.0a7.7,7.7 0 1 0 15.4,0a7.7,7.7 0 1 0 -15.4,0zM1336.7,511.4a7.7,7.7 0 1 0 15.4,0a7.7,7.7 0 1 0 -15.4,0zM1326.1,545.8a7.7,7.7 0 1 0 15.4,0a7.7,7.7 0 1 0 -15.4,0zM1353.6,516.9a7.7,7.7 0 1 0 15.4,0a7.7,7.7 0 1 0 -15.4,0zM1342.3,551.0a7.7,7.7 0 1 0 15.4,0a7.7,7.7 0 1 0 -15.4,0zM1370.5,522.6a7.7,7.7 0 1 0 15.4,0a7.7,7.7 0 1 0 -15.4,0zM1358.4,556.6a7.7,7.7 0 1 0 15.4,0a7.7,7.7 0 1 0 -15.4,0zM1387.2,528.8a7.7,7.7 0 1 0 15.4,0a7.7,7.7 0 1 0 -15.4,0zM1374.4,562.4a7.7,7.7 0 1 0 15.4,0a7.7,7.7 0 1 0 -15.4,0zM1403.8,535.3a7.7,7.7 0 1 0 15.4,0a7.7,7.7 0 1 0 -15.4,0zM1390.2,568.6a7.7,7.7 0 1 0 15.4,0a7.7,7.7 0 1 0 -15.4,0zM1420.3,542.3a7.7,7.7 0 1 0 15.4,0a7.7,7.7 0 1 0 -15.4,0zM1405.8,575.3a7.7,7.7 0 1 0 15.4,0a7.7,7.7 0 1 0 -15.4,0zM1436.6,549.8a7.7,7.7 0 1 0 15.4,0a7.7,7.7 0 1 0 -15.4,0zM1421.2,582.3a7.7,7.7 0 1 0 15.4,0a7.7,7.7 0 1 0 -15.4,0zM1452.7,557.7a7.7,7.7 0 1 0 15.4,0a7.7,7.7 0 1 0 -15.4,0zM1436.3,589.7a7.7,7.7 0 1 0 15.4,0a7.7,7.7 0 1 0 -15.4,0zM1468.6,566.2a7.7,7.7 0 1 0 15.4,0a7.7,7.7 0 1 0 -15.4,0zM1451.1,597.7a7.7,7.7 0 1 0 15.4,0a7.7,7.7 0 1 0 -15.4,0zM1484.2,575.3a7.7,7.7 0 1 0 15.4,0a7.7,7.7 0 1 0 -15.4,0zM1465.5,606.1a7.7,7.7 0 1 0 15.4,0a7.7,7.7 0 1 0 -15.4,0zM1499.6,585.1a7.7,7.7 0 1 0 15.4,0a7.7,7.7 0 1 0 -15.4,0zM1479.6,615.0a7.7,7.7 0 1 0 15.4,0a7.7,7.7 0 1 0 -15.4,0zM1514.5,595.6a7.7,7.7 0 1 0 15.4,0a7.7,7.7 0 1 0 -15.4,0zM1493.1,624.6a7.7,7.7 0 1 0 15.4,0a7.7,7.7 0 1 0 -15.4,0zM1529.0,607.0a7.7,7.7 0 1 0 15.4,0a7.7,7.7 0 1 0 -15.4,0zM1506.0,634.7a7.7,7.7 0 1 0 15.4,0a7.7,7.7 0 1 0 -15.4,0zM1542.9,619.2a7.7,7.7 0 1 0 15.4,0a7.7,7.7 0 1 0 -15.4,0zM1518.2,645.5a7.7,7.7 0 1 0 15.4,0a7.7,7.7 0 1 0 -15.4,0zM1556.1,632.5a7.7,7.7 0 1 0 15.4,0a7.7,7.7 0 1 0 -15.4,0zM1529.6,656.9a7.7,7.7 0 1 0 15.4,0a7.7,7.7 0 1 0 -15.4,0zM1568.3,647.0a7.7,7.7 0 1 0 15.4,0a7.7,7.7 0 1 0 -15.4,0zM1539.8,669.0a7.7,7.7 0 1 0 15.4,0a7.7,7.7 0 1 0 -15.4,0zM1579.3,662.8a7.7,7.7 0 1 0 15.4,0a7.7,7.7 0 1 0 -15.4,0zM1548.8,681.8a7.7,7.7 0 1 0 15.4,0a7.7,7.7 0 1 0 -15.4,0zM1588.7,679.9a7.7,7.7 0 1 0 15.4,0a7.7,7.7 0 1 0 -15.4,0zM1556.1,695.2a7.7,7.7 0 1 0 15.4,0a7.7,7.7 0 1 0 -15.4,0zM1595.9,698.3a7.7,7.7 0 1 0 15.4,0a7.7,7.7 0 1 0 -15.4,0zM1561.6,709.2a7.7,7.7 0 1 0 15.4,0a7.7,7.7 0 1 0 -15.4,0zM1600.6,717.8a7.7,7.7 0 1 0 15.4,0a7.7,7.7 0 1 0 -15.4,0zM1565.0,723.5a7.7,7.7 0 1 0 15.4,0a7.7,7.7 0 1 0 -15.4,0zM1602.2,738.0a7.7,7.7 0 1 0 15.4,0a7.7,7.7 0 1 0 -15.4,0zM1566.2,738.0a7.7,7.7 0 1 0 15.4,0a7.7,7.7 0 1 0 -15.4,0zM1600.6,758.2a7.7,7.7 0 1 0 15.4,0a7.7,7.7 0 1 0 -15.4,0zM1565.0,752.5a7.7,7.7 0 1 0 15.4,0a7.7,7.7 0 1 0 -15.4,0zM1595.9,777.7a7.7,7.7 0 1 0 15.4,0a7.7,7.7 0 1 0 -15.4,0zM1561.6,766.8a7.7,7.7 0 1 0 15.4,0a7.7,7.7 0 1 0 -15.4,0zM1588.7,796.1a7.7,7.7 0 1 0 15.4,0a7.7,7.7 0 1 0 -15.4,0zM1556.1,780.8a7.7,7.7 0 1 0 15.4,0a7.7,7.7 0 1 0 -15.4,0zM1579.3,813.2a7.7,7.7 0 1 0 15.4,0a7.7,7.7 0 1 0 -15.4,0zM1548.8,794.2a7.7,7.7 0 1 0 15.4,0a7.7,7.7 0 1 0 -15.4,0zM1568.3,829.0a7.7,7.7 0 1 0 15.4,0a7.7,7.7 0 1 0 -15.4,0zM1539.8,807.0a7.7,7.7 0 1 0 15.4,0a7.7,7.7 0 1 0 -15.4,0zM1556.1,843.5a7.7,7.7 0 1 0 15.4,0a7.7,7.7 0 1 0 -15.4,0zM1529.6,819.1a7.7,7.7 0 1 0 15.4,0a7.7,7.7 0 1 0 -15.4,0zM1542.9,856.8a7.7,7.7 0 1 0 15.4,0a7.7,7.7 0 1 0 -15.4,0zM1518.2,830.5a7.7,7.7 0 1 0 15.4,0a7.7,7.7 0 1 0 -15.4,0zM1529.0,869.0a7.7,7.7 0 1 0 15.4,0a7.7,7.7 0 1 0 -15.4,0zM1506.0,841.3a7.7,7.7 0 1 0 15.4,0a7.7,7.7 0 1 0 -15.4,0zM1514.5,880.4a7.7,7.7 0 1 0 15.4,0a7.7,7.7 0 1 0 -15.4,0zM1493.1,851.4a7.7,7.7 0 1 0 15.4,0a7.7,7.7 0 1 0 -15.4,0zM1499.6,890.9a7.7,7.7 0 1 0 15.4,0a7.7,7.7 0 1 0 -15.4,0zM1479.6,861.0a7.7,7.7 0 1 0 15.4,0a7.7,7.7 0 1 0 -15.4,0zM1484.2,900.7a7.7,7.7 0 1 0 15.4,0a7.7,7.7 0 1 0 -15.4,0zM1465.5,869.9a7.7,7.7 0 1 0 15.4,0a7.7,7.7 0 1 0 -15.4,0zM1468.6,909.8a7.7,7.7 0 1 0 15.4,0a7.7,7.7 0 1 0 -15.4,0zM1451.1,878.3a7.7,7.7 0 1 0 15.4,0a7.7,7.7 0 1 0 -15.4,0zM1452.7,918.3a7.7,7.7 0 1 0 15.4,0a7.7,7.7 0 1 0 -15.4,0zM1436.3,886.3a7.7,7.7 0 1 0 15.4,0a7.7,7.7 0 1 0 -15.4,0zM1436.6,926.2a7.7,7.7 0 1 0 15.4,0a7.7,7.7 0 1 0 -15.4,0zM1421.2,893.7a7.7,7.7 0 1 0 15.4,0a7.7,7.7 0 1 0 -15.4,0zM1420.3,933.7a7.7,7.7 0 1 0 15.4,0a7.7,7.7 0 1 0 -15.4,0zM1405.8,900.7a7.7,7.7 0 1 0 15.4,0a7.7,7.7 0 1 0 -15.4,0zM1403.8,940.7a7.7,7.7 0 1 0 15.4,0a7.7,7.7 0 1 0 -15.4,0zM1390.2,907.4a7.7,7.7 0 1 0 15.4,0a7.7,7.7 0 1 0 -15.4,0zM1387.2,947.2a7.7,7.7 0 1 0 15.4,0a7.7,7.7 0 1 0 -15.4,0zM1374.4,913.6a7.7,7.7 0 1 0 15.4,0a7.7,7.7 0 1 0 -15.4,0zM1370.5,953.4a7.7,7.7 0 1 0 15.4,0a7.7,7.7 0 1 0 -15.4,0zM1358.4,919.4a7.7,7.7 0 1 0 15.4,0a7.7,7.7 0 1 0 -15.4,0zM1353.6,959.1a7.7,7.7 0 1 0 15.4,0a7.7,7.7 0 1 0 -15.4,0zM1342.3,925.0a7.7,7.7 0 1 0 15.4,0a7.7,7.7 0 1 0 -15.4,0zM1336.7,964.6a7.7,7.7 0 1 0 15.4,0a7.7,7.7 0 1 0 -15.4,0zM1326.1,930.2a7.7,7.7 0 1 0 15.4,0a7.7,7.7 0 1 0 -15.4,0zM1319.7,969.6a7.7,7.7 0 1 0 15.4,0a7.7,7.7 0 1 0 -15.4,0zM1309.7,935.0a7.7,7.7 0 1 0 15.4,0a7.7,7.7 0 1 0 -15.4,0zM1302.6,974.4a7.7,7.7 0 1 0 15.4,0a7.7,7.7 0 1 0 -15.4,0zM1293.3,939.6a7.7,7.7 0 1 0 15.4,0a7.7,7.7 0 1 0 -15.4,0zM1285.4,978.8a7.7,7.7 0 1 0 15.4,0a7.7,7.7 0 1 0 -15.4,0zM1276.7,943.9a7.7,7.7 0 1 0 15.4,0a7.7,7.7 0 1 0 -15.4,0zM1268.2,983.0a7.7,7.7 0 1 0 15.4,0a7.7,7.7 0 1 0 -15.4,0zM1260.1,947.9a7.7,7.7 0 1 0 15.4,0a7.7,7.7 0 1 0 -15.4,0zM1250.9,986.8a7.7,7.7 0 1 0 15.4,0a7.7,7.7 0 1 0 -15.4,0zM1243.3,951.6a7.7,7.7 0 1 0 15.4,0a7.7,7.7 0 1 0 -15.4,0zM1233.6,990.4a7.7,7.7 0 1 0 15.4,0a7.7,7.7 0 1 0 -15.4,0zM1226.6,955.1a7.7,7.7 0 1 0 15.4,0a7.7,7.7 0 1 0 -15.4,0zM1216.3,993.8a7.7,7.7 0 1 0 15.4,0a7.7,7.7 0 1 0 -15.4,0zM1209.7,958.4a7.7,7.7 0 1 0 15.4,0a7.7,7.7 0 1 0 -15.4,0zM1198.9,996.8a7.7,7.7 0 1 0 15.4,0a7.7,7.7 0 1 0 -15.4,0zM1192.8,961.4a7.7,7.7 0 1 0 15.4,0a7.7,7.7 0 1 0 -15.4,0zM1181.4,999.7a7.7,7.7 0 1 0 15.4,0a7.7,7.7 0 1 0 -15.4,0zM1175.9,964.1a7.7,7.7 0 1 0 15.4,0a7.7,7.7 0 1 0 -15.4,0zM1164.0,1002.3a7.7,7.7 0 1 0 15.4,0a7.7,7.7 0 1 0 -15.4,0zM1158.9,966.6a7.7,7.7 0 1 0 15.4,0a7.7,7.7 0 1 0 -15.4,0zM1146.5,1004.6a7.7,7.7 0 1 0 15.4,0a7.7,7.7 0 1 0 -15.4,0zM1141.9,968.9a7.7,7.7 0 1 0 15.4,0a7.7,7.7 0 1 0 -15.4,0zM1128.9,1006.8a7.7,7.7 0 1 0 15.4,0a7.7,7.7 0 1 0 -15.4,0zM1124.8,971.0a7.7,7.7 0 1 0 15.4,0a7.7,7.7 0 1 0 -15.4,0zM1111.4,1008.7a7.7,7.7 0 1 0 15.4,0a7.7,7.7 0 1 0 -15.4,0zM1107.7,972.9a7.7,7.7 0 1 0 15.4,0a7.7,7.7 0 1 0 -15.4,0zM1093.8,1010.4a7.7,7.7 0 1 0 15.4,0a7.7,7.7 0 1 0 -15.4,0zM1090.6,974.5a7.7,7.7 0 1 0 15.4,0a7.7,7.7 0 1 0 -15.4,0zM1076.3,1011.8a7.7,7.7 0 1 0 15.4,0a7.7,7.7 0 1 0 -15.4,0zM1073.5,975.9a7.7,7.7 0 1 0 15.4,0a7.7,7.7 0 1 0 -15.4,0zM1058.7,1013.1a7.7,7.7 0 1 0 15.4,0a7.7,7.7 0 1 0 -15.4,0zM1056.3,977.1a7.7,7.7 0 1 0 15.4,0a7.7,7.7 0 1 0 -15.4,0zM1041.1,1014.1a7.7,7.7 0 1 0 15.4,0a7.7,7.7 0 1 0 -15.4,0zM1039.2,978.2a7.7,7.7 0 1 0 15.4,0a7.7,7.7 0 1 0 -15.4,0zM1023.5,1014.9a7.7,7.7 0 1 0 15.4,0a7.7,7.7 0 1 0 -15.4,0zM1022.0,979.0a7.7,7.7 0 1 0 15.4,0a7.7,7.7 0 1 0 -15.4,0zM1005.9,1015.6a7.7,7.7 0 1 0 15.4,0a7.7,7.7 0 1 0 -15.4,0zM1004.8,979.6a7.7,7.7 0 1 0 15.4,0a7.7,7.7 0 1 0 -15.4,0zM988.2,1016.0a7.7,7.7 0 1 0 15.4,0a7.7,7.7 0 1 0 -15.4,0zM987.6,980.0a7.7,7.7 0 1 0 15.4,0a7.7,7.7 0 1 0 -15.4,0zM970.6,1016.2a7.7,7.7 0 1 0 15.4,0a7.7,7.7 0 1 0 -15.4,0zM970.4,980.2a7.7,7.7 0 1 0 15.4,0a7.7,7.7 0 1 0 -15.4,0zM953.0,1016.2a7.7,7.7 0 1 0 15.4,0a7.7,7.7 0 1 0 -15.4,0zM953.2,980.2a7.7,7.7 0 1 0 15.4,0a7.7,7.7 0 1 0 -15.4,0zM935.4,1016.0a7.7,7.7 0 1 0 15.4,0a7.7,7.7 0 1 0 -15.4,0zM936.0,980.0a7.7,7.7 0 1 0 15.4,0a7.7,7.7 0 1 0 -15.4,0zM917.7,1015.6a7.7,7.7 0 1 0 15.4,0a7.7,7.7 0 1 0 -15.4,0zM918.8,979.6a7.7,7.7 0 1 0 15.4,0a7.7,7.7 0 1 0 -15.4,0zM900.1,1014.9a7.7,7.7 0 1 0 15.4,0a7.7,7.7 0 1 0 -15.4,0zM901.6,979.0a7.7,7.7 0 1 0 15.4,0a7.7,7.7 0 1 0 -15.4,0zM882.5,1014.1a7.7,7.7 0 1 0 15.4,0a7.7,7.7 0 1 0 -15.4,0zM884.4,978.2a7.7,7.7 0 1 0 15.4,0a7.7,7.7 0 1 0 -15.4,0zM864.9,1013.1a7.7,7.7 0 1 0 15.4,0a7.7,7.7 0 1 0 -15.4,0zM867.3,977.1a7.7,7.7 0 1 0 15.4,0a7.7,7.7 0 1 0 -15.4,0zM847.3,1011.8a7.7,7.7 0 1 0 15.4,0a7.7,7.7 0 1 0 -15.4,0zM850.1,975.9a7.7,7.7 0 1 0 15.4,0a7.7,7.7 0 1 0 -15.4,0zM829.8,1010.4a7.7,7.7 0 1 0 15.4,0a7.7,7.7 0 1 0 -15.4,0zM833.0,974.5a7.7,7.7 0 1 0 15.4,0a7.7,7.7 0 1 0 -15.4,0zM812.2,1008.7a7.7,7.7 0 1 0 15.4,0a7.7,7.7 0 1 0 -15.4,0zM815.9,972.9a7.7,7.7 0 1 0 15.4,0a7.7,7.7 0 1 0 -15.4,0zM794.7,1006.8a7.7,7.7 0 1 0 15.4,0a7.7,7.7 0 1 0 -15.4,0zM798.8,971.0a7.7,7.7 0 1 0 15.4,0a7.7,7.7 0 1 0 -15.4,0zM777.1,1004.6a7.7,7.7 0 1 0 15.4,0a7.7,7.7 0 1 0 -15.4,0zM781.7,968.9a7.7,7.7 0 1 0 15.4,0a7.7,7.7 0 1 0 -15.4,0zM759.6,1002.3a7.7,7.7 0 1 0 15.4,0a7.7,7.7 0 1 0 -15.4,0zM764.7,966.6a7.7,7.7 0 1 0 15.4,0a7.7,7.7 0 1 0 -15.4,0zM742.2,999.7a7.7,7.7 0 1 0 15.4,0a7.7,7.7 0 1 0 -15.4,0zM747.7,964.1a7.7,7.7 0 1 0 15.4,0a7.7,7.7 0 1 0 -15.4,0zM724.7,996.8a7.7,7.7 0 1 0 15.4,0a7.7,7.7 0 1 0 -15.4,0zM730.8,961.4a7.7,7.7 0 1 0 15.4,0a7.7,7.7 0 1 0 -15.4,0zM707.3,993.8a7.7,7.7 0 1 0 15.4,0a7.7,7.7 0 1 0 -15.4,0zM713.9,958.4a7.7,7.7 0 1 0 15.4,0a7.7,7.7 0 1 0 -15.4,0zM690.0,990.4a7.7,7.7 0 1 0 15.4,0a7.7,7.7 0 1 0 -15.4,0zM697.0,955.1a7.7,7.7 0 1 0 15.4,0a7.7,7.7 0 1 0 -15.4,0zM672.7,986.8a7.7,7.7 0 1 0 15.4,0a7.7,7.7 0 1 0 -15.4,0zM680.3,951.6a7.7,7.7 0 1 0 15.4,0a7.7,7.7 0 1 0 -15.4,0zM655.4,983.0a7.7,7.7 0 1 0 15.4,0a7.7,7.7 0 1 0 -15.4,0zM663.5,947.9a7.7,7.7 0 1 0 15.4,0a7.7,7.7 0 1 0 -15.4,0zM638.2,978.8a7.7,7.7 0 1 0 15.4,0a7.7,7.7 0 1 0 -15.4,0zM646.9,943.9a7.7,7.7 0 1 0 15.4,0a7.7,7.7 0 1 0 -15.4,0zM621.0,974.4a7.7,7.7 0 1 0 15.4,0a7.7,7.7 0 1 0 -15.4,0zM630.3,939.6a7.7,7.7 0 1 0 15.4,0a7.7,7.7 0 1 0 -15.4,0zM603.9,969.6a7.7,7.7 0 1 0 15.4,0a7.7,7.7 0 1 0 -15.4,0zM613.9,935.0a7.7,7.7 0 1 0 15.4,0a7.7,7.7 0 1 0 -15.4,0zM586.9,964.6a7.7,7.7 0 1 0 15.4,0a7.7,7.7 0 1 0 -15.4,0zM597.5,930.2a7.7,7.7 0 1 0 15.4,0a7.7,7.7 0 1 0 -15.4,0zM570.0,959.1a7.7,7.7 0 1 0 15.4,0a7.7,7.7 0 1 0 -15.4,0zM581.3,925.0a7.7,7.7 0 1 0 15.4,0a7.7,7.7 0 1 0 -15.4,0zM553.1,953.4a7.7,7.7 0 1 0 15.4,0a7.7,7.7 0 1 0 -15.4,0zM565.2,919.4a7.7,7.7 0 1 0 15.4,0a7.7,7.7 0 1 0 -15.4,0zM536.4,947.2a7.7,7.7 0 1 0 15.4,0a7.7,7.7 0 1 0 -15.4,0zM549.2,913.6a7.7,7.7 0 1 0 15.4,0a7.7,7.7 0 1 0 -15.4,0zM519.8,940.7a7.7,7.7 0 1 0 15.4,0a7.7,7.7 0 1 0 -15.4,0zM533.4,907.4a7.7,7.7 0 1 0 15.4,0a7.7,7.7 0 1 0 -15.4,0zM503.3,933.7a7.7,7.7 0 1 0 15.4,0a7.7,7.7 0 1 0 -15.4,0zM517.8,900.7a7.7,7.7 0 1 0 15.4,0a7.7,7.7 0 1 0 -15.4,0zM487.0,926.2a7.7,7.7 0 1 0 15.4,0a7.7,7.7 0 1 0 -15.4,0zM502.4,893.7a7.7,7.7 0 1 0 15.4,0a7.7,7.7 0 1 0 -15.4,0zM470.9,918.3a7.7,7.7 0 1 0 15.4,0a7.7,7.7 0 1 0 -15.4,0zM487.3,886.3a7.7,7.7 0 1 0 15.4,0a7.7,7.7 0 1 0 -15.4,0zM455.0,909.8a7.7,7.7 0 1 0 15.4,0a7.7,7.7 0 1 0 -15.4,0zM472.5,878.3a7.7,7.7 0 1 0 15.4,0a7.7,7.7 0 1 0 -15.4,0zM439.4,900.7a7.7,7.7 0 1 0 15.4,0a7.7,7.7 0 1 0 -15.4,0zM458.1,869.9a7.7,7.7 0 1 0 15.4,0a7.7,7.7 0 1 0 -15.4,0zM424.0,890.9a7.7,7.7 0 1 0 15.4,0a7.7,7.7 0 1 0 -15.4,0zM444.0,861.0a7.7,7.7 0 1 0 15.4,0a7.7,7.7 0 1 0 -15.4,0zM409.1,880.4a7.7,7.7 0 1 0 15.4,0a7.7,7.7 0 1 0 -15.4,0zM430.5,851.4a7.7,7.7 0 1 0 15.4,0a7.7,7.7 0 1 0 -15.4,0zM394.6,869.0a7.7,7.7 0 1 0 15.4,0a7.7,7.7 0 1 0 -15.4,0zM417.6,841.3a7.7,7.7 0 1 0 15.4,0a7.7,7.7 0 1 0 -15.4,0zM380.7,856.8a7.7,7.7 0 1 0 15.4,0a7.7,7.7 0 1 0 -15.4,0zM405.4,830.5a7.7,7.7 0 1 0 15.4,0a7.7,7.7 0 1 0 -15.4,0zM367.5,843.5a7.7,7.7 0 1 0 15.4,0a7.7,7.7 0 1 0 -15.4,0zM394.0,819.1a7.7,7.7 0 1 0 15.4,0a7.7,7.7 0 1 0 -15.4,0zM355.3,829.0a7.7,7.7 0 1 0 15.4,0a7.7,7.7 0 1 0 -15.4,0zM383.8,807.0a7.7,7.7 0 1 0 15.4,0a7.7,7.7 0 1 0 -15.4,0zM344.3,813.2a7.7,7.7 0 1 0 15.4,0a7.7,7.7 0 1 0 -15.4,0zM374.8,794.2a7.7,7.7 0 1 0 15.4,0a7.7,7.7 0 1 0 -15.4,0zM334.9,796.1a7.7,7.7 0 1 0 15.4,0a7.7,7.7 0 1 0 -15.4,0zM367.5,780.8a7.7,7.7 0 1 0 15.4,0a7.7,7.7 0 1 0 -15.4,0zM327.7,777.7a7.7,7.7 0 1 0 15.4,0a7.7,7.7 0 1 0 -15.4,0zM362.0,766.8a7.7,7.7 0 1 0 15.4,0a7.7,7.7 0 1 0 -15.4,0zM323.0,758.2a7.7,7.7 0 1 0 15.4,0a7.7,7.7 0 1 0 -15.4,0zM358.6,752.5a7.7,7.7 0 1 0 15.4,0a7.7,7.7 0 1 0 -15.4,0zM321.4,738.0a7.7,7.7 0 1 0 15.4,0a7.7,7.7 0 1 0 -15.4,0zM357.4,738.0a7.7,7.7 0 1 0 15.4,0a7.7,7.7 0 1 0 -15.4,0zM323.0,717.8a7.7,7.7 0 1 0 15.4,0a7.7,7.7 0 1 0 -15.4,0zM358.6,723.5a7.7,7.7 0 1 0 15.4,0a7.7,7.7 0 1 0 -15.4,0zM327.7,698.3a7.7,7.7 0 1 0 15.4,0a7.7,7.7 0 1 0 -15.4,0zM362.0,709.2a7.7,7.7 0 1 0 15.4,0a7.7,7.7 0 1 0 -15.4,0zM334.9,679.9a7.7,7.7 0 1 0 15.4,0a7.7,7.7 0 1 0 -15.4,0zM367.5,695.2a7.7,7.7 0 1 0 15.4,0a7.7,7.7 0 1 0 -15.4,0zM344.3,662.8a7.7,7.7 0 1 0 15.4,0a7.7,7.7 0 1 0 -15.4,0zM374.8,681.8a7.7,7.7 0 1 0 15.4,0a7.7,7.7 0 1 0 -15.4,0zM355.3,647.0a7.7,7.7 0 1 0 15.4,0a7.7,7.7 0 1 0 -15.4,0zM383.8,669.0a7.7,7.7 0 1 0 15.4,0a7.7,7.7 0 1 0 -15.4,0zM367.5,632.5a7.7,7.7 0 1 0 15.4,0a7.7,7.7 0 1 0 -15.4,0zM394.0,656.9a7.7,7.7 0 1 0 15.4,0a7.7,7.7 0 1 0 -15.4,0zM380.7,619.2a7.7,7.7 0 1 0 15.4,0a7.7,7.7 0 1 0 -15.4,0zM405.4,645.5a7.7,7.7 0 1 0 15.4,0a7.7,7.7 0 1 0 -15.4,0zM394.6,607.0a7.7,7.7 0 1 0 15.4,0a7.7,7.7 0 1 0 -15.4,0zM417.6,634.7a7.7,7.7 0 1 0 15.4,0a7.7,7.7 0 1 0 -15.4,0zM409.1,595.6a7.7,7.7 0 1 0 15.4,0a7.7,7.7 0 1 0 -15.4,0zM430.5,624.6a7.7,7.7 0 1 0 15.4,0a7.7,7.7 0 1 0 -15.4,0zM424.0,585.1a7.7,7.7 0 1 0 15.4,0a7.7,7.7 0 1 0 -15.4,0zM444.0,615.0a7.7,7.7 0 1 0 15.4,0a7.7,7.7 0 1 0 -15.4,0zM439.4,575.3a7.7,7.7 0 1 0 15.4,0a7.7,7.7 0 1 0 -15.4,0zM458.1,606.1a7.7,7.7 0 1 0 15.4,0a7.7,7.7 0 1 0 -15.4,0zM455.0,566.2a7.7,7.7 0 1 0 15.4,0a7.7,7.7 0 1 0 -15.4,0zM472.5,597.7a7.7,7.7 0 1 0 15.4,0a7.7,7.7 0 1 0 -15.4,0zM470.9,557.7a7.7,7.7 0 1 0 15.4,0a7.7,7.7 0 1 0 -15.4,0zM487.3,589.7a7.7,7.7 0 1 0 15.4,0a7.7,7.7 0 1 0 -15.4,0zM487.0,549.8a7.7,7.7 0 1 0 15.4,0a7.7,7.7 0 1 0 -15.4,0zM502.4,582.3a7.7,7.7 0 1 0 15.4,0a7.7,7.7 0 1 0 -15.4,0zM503.3,542.3a7.7,7.7 0 1 0 15.4,0a7.7,7.7 0 1 0 -15.4,0zM517.8,575.3a7.7,7.7 0 1 0 15.4,0a7.7,7.7 0 1 0 -15.4,0zM519.8,535.3a7.7,7.7 0 1 0 15.4,0a7.7,7.7 0 1 0 -15.4,0zM533.4,568.6a7.7,7.7 0 1 0 15.4,0a7.7,7.7 0 1 0 -15.4,0zM536.4,528.8a7.7,7.7 0 1 0 15.4,0a7.7,7.7 0 1 0 -15.4,0zM549.2,562.4a7.7,7.7 0 1 0 15.4,0a7.7,7.7 0 1 0 -15.4,0zM553.1,522.6a7.7,7.7 0 1 0 15.4,0a7.7,7.7 0 1 0 -15.4,0zM565.2,556.6a7.7,7.7 0 1 0 15.4,0a7.7,7.7 0 1 0 -15.4,0zM570.0,516.9a7.7,7.7 0 1 0 15.4,0a7.7,7.7 0 1 0 -15.4,0zM581.3,551.0a7.7,7.7 0 1 0 15.4,0a7.7,7.7 0 1 0 -15.4,0zM586.9,511.4a7.7,7.7 0 1 0 15.4,0a7.7,7.7 0 1 0 -15.4,0zM597.5,545.8a7.7,7.7 0 1 0 15.4,0a7.7,7.7 0 1 0 -15.4,0zM603.9,506.4a7.7,7.7 0 1 0 15.4,0a7.7,7.7 0 1 0 -15.4,0zM613.9,541.0a7.7,7.7 0 1 0 15.4,0a7.7,7.7 0 1 0 -15.4,0zM621.0,501.6a7.7,7.7 0 1 0 15.4,0a7.7,7.7 0 1 0 -15.4,0zM630.3,536.4a7.7,7.7 0 1 0 15.4,0a7.7,7.7 0 1 0 -15.4,0zM638.2,497.2a7.7,7.7 0 1 0 15.4,0a7.7,7.7 0 1 0 -15.4,0zM646.9,532.1a7.7,7.7 0 1 0 15.4,0a7.7,7.7 0 1 0 -15.4,0zM655.4,493.0a7.7,7.7 0 1 0 15.4,0a7.7,7.7 0 1 0 -15.4,0zM663.5,528.1a7.7,7.7 0 1 0 15.4,0a7.7,7.7 0 1 0 -15.4,0zM672.7,489.2a7.7,7.7 0 1 0 15.4,0a7.7,7.7 0 1 0 -15.4,0zM680.3,524.4a7.7,7.7 0 1 0 15.4,0a7.7,7.7 0 1 0 -15.4,0zM690.0,485.6a7.7,7.7 0 1 0 15.4,0a7.7,7.7 0 1 0 -15.4,0zM697.0,520.9a7.7,7.7 0 1 0 15.4,0a7.7,7.7 0 1 0 -15.4,0zM707.3,482.2a7.7,7.7 0 1 0 15.4,0a7.7,7.7 0 1 0 -15.4,0zM713.9,517.6a7.7,7.7 0 1 0 15.4,0a7.7,7.7 0 1 0 -15.4,0zM724.7,479.2a7.7,7.7 0 1 0 15.4,0a7.7,7.7 0 1 0 -15.4,0zM730.8,514.6a7.7,7.7 0 1 0 15.4,0a7.7,7.7 0 1 0 -15.4,0zM742.2,476.3a7.7,7.7 0 1 0 15.4,0a7.7,7.7 0 1 0 -15.4,0zM747.7,511.9a7.7,7.7 0 1 0 15.4,0a7.7,7.7 0 1 0 -15.4,0zM759.6,473.7a7.7,7.7 0 1 0 15.4,0a7.7,7.7 0 1 0 -15.4,0zM764.7,509.4a7.7,7.7 0 1 0 15.4,0a7.7,7.7 0 1 0 -15.4,0zM777.1,471.4a7.7,7.7 0 1 0 15.4,0a7.7,7.7 0 1 0 -15.4,0zM781.7,507.1a7.7,7.7 0 1 0 15.4,0a7.7,7.7 0 1 0 -15.4,0zM794.7,469.2a7.7,7.7 0 1 0 15.4,0a7.7,7.7 0 1 0 -15.4,0zM798.8,505.0a7.7,7.7 0 1 0 15.4,0a7.7,7.7 0 1 0 -15.4,0zM812.2,467.3a7.7,7.7 0 1 0 15.4,0a7.7,7.7 0 1 0 -15.4,0zM815.9,503.1a7.7,7.7 0 1 0 15.4,0a7.7,7.7 0 1 0 -15.4,0zM829.8,465.6a7.7,7.7 0 1 0 15.4,0a7.7,7.7 0 1 0 -15.4,0zM833.0,501.5a7.7,7.7 0 1 0 15.4,0a7.7,7.7 0 1 0 -15.4,0zM847.3,464.2a7.7,7.7 0 1 0 15.4,0a7.7,7.7 0 1 0 -15.4,0zM850.1,500.1a7.7,7.7 0 1 0 15.4,0a7.7,7.7 0 1 0 -15.4,0zM864.9,462.9a7.7,7.7 0 1 0 15.4,0a7.7,7.7 0 1 0 -15.4,0zM867.3,498.9a7.7,7.7 0 1 0 15.4,0a7.7,7.7 0 1 0 -15.4,0zM882.5,461.9a7.7,7.7 0 1 0 15.4,0a7.7,7.7 0 1 0 -15.4,0zM884.4,497.8a7.7,7.7 0 1 0 15.4,0a7.7,7.7 0 1 0 -15.4,0zM900.1,461.1a7.7,7.7 0 1 0 15.4,0a7.7,7.7 0 1 0 -15.4,0zM901.6,497.0a7.7,7.7 0 1 0 15.4,0a7.7,7.7 0 1 0 -15.4,0zM917.7,460.4a7.7,7.7 0 1 0 15.4,0a7.7,7.7 0 1 0 -15.4,0zM918.8,496.4a7.7,7.7 0 1 0 15.4,0a7.7,7.7 0 1 0 -15.4,0zM935.4,460.0a7.7,7.7 0 1 0 15.4,0a7.7,7.7 0 1 0 -15.4,0zM936.0,496.0a7.7,7.7 0 1 0 15.4,0a7.7,7.7 0 1 0 -15.4,0zM953.0,459.8a7.7,7.7 0 1 0 15.4,0a7.7,7.7 0 1 0 -15.4,0zM953.2,495.8a7.7,7.7 0 1 0 15.4,0a7.7,7.7 0 1 0 -15.4,0z" fill="#eddfb0" stroke-width="1.5"/></g>
<path d="M0,0C0.0,-1.5 -0.2,-6.1 0.2,-9.2C0.6,-12.2 1.7,-16.0 2.5,-18.3C3.3,-20.6 4.8,-22.1 5.2,-22.9C5.8,-20.6 7.8,-14.5 8.8,-9.2C9.8,-3.9 10.7,3.7 11.1,9.0C11.5,14.3 11.5,17.7 11.1,22.7C10.7,27.7 10.1,34.1 8.8,39.1C7.5,44.1 5.7,48.8 3.4,52.7C1.1,56.7 -2.1,60.5 -4.8,62.8C-7.5,65.1 -10.6,67.0 -13.0,66.4C-15.4,65.8 -17.6,63.4 -19.4,59.1C-21.2,54.9 -23.0,47.0 -24.0,40.9C-25.0,34.8 -25.2,26.8 -25.3,22.7C-25.4,18.6 -25.3,18.1 -24.9,16.3C-24.5,14.5 -23.9,13.1 -23.1,11.7C-22.3,10.3 -21.1,9.2 -19.9,8.1C-18.7,7.0 -17.4,5.9 -15.8,4.9C-14.2,3.9 -12.1,2.9 -10.3,2.2C-8.5,1.5 -6.5,1.0 -4.8,0.6C-3.1,0.2 -0.8,0.1 0.0,0.0Z" transform="translate(964.9,457) rotate(0)" fill="#efe2fc" stroke="#c98af8" stroke-width="2"/><path d="M0,0C0.0,-1.5 -0.2,-6.1 0.2,-9.2C0.6,-12.2 1.7,-16.0 2.5,-18.3C3.3,-20.6 4.8,-22.1 5.2,-22.9C5.8,-20.6 7.8,-14.5 8.8,-9.2C9.8,-3.9 10.7,3.7 11.1,9.0C11.5,14.3 11.5,17.7 11.1,22.7C10.7,27.7 10.1,34.1 8.8,39.1C7.5,44.1 5.7,48.8 3.4,52.7C1.1,56.7 -2.1,60.5 -4.8,62.8C-7.5,65.1 -10.6,67.0 -13.0,66.4C-15.4,65.8 -17.6,63.4 -19.4,59.1C-21.2,54.9 -23.0,47.0 -24.0,40.9C-25.0,34.8 -25.2,26.8 -25.3,22.7C-25.4,18.6 -25.3,18.1 -24.9,16.3C-24.5,14.5 -23.9,13.1 -23.1,11.7C-22.3,10.3 -21.1,9.2 -19.9,8.1C-18.7,7.0 -17.4,5.9 -15.8,4.9C-14.2,3.9 -12.1,2.9 -10.3,2.2C-8.5,1.5 -6.5,1.0 -4.8,0.6C-3.1,0.2 -0.8,0.1 0.0,0.0Z" transform="translate(1013.3,457) rotate(0) scale(-1,1)" fill="#efe2fc" stroke="#c98af8" stroke-width="2"/><path d="M0,0C0.0,-1.5 -0.2,-6.1 0.2,-9.2C0.6,-12.2 1.7,-16.0 2.5,-18.3C3.3,-20.6 4.8,-22.1 5.2,-22.9C5.8,-20.6 7.8,-14.5 8.8,-9.2C9.8,-3.9 10.7,3.7 11.1,9.0C11.5,14.3 11.5,17.7 11.1,22.7C10.7,27.7 10.1,34.1 8.8,39.1C7.5,44.1 5.7,48.8 3.4,52.7C1.1,56.7 -2.1,60.5 -4.8,62.8C-7.5,65.1 -10.6,67.0 -13.0,66.4C-15.4,65.8 -17.6,63.4 -19.4,59.1C-21.2,54.9 -23.0,47.0 -24.0,40.9C-25.0,34.8 -25.2,26.8 -25.3,22.7C-25.4,18.6 -25.3,18.1 -24.9,16.3C-24.5,14.5 -23.9,13.1 -23.1,11.7C-22.3,10.3 -21.1,9.2 -19.9,8.1C-18.7,7.0 -17.4,5.9 -15.8,4.9C-14.2,3.9 -12.1,2.9 -10.3,2.2C-8.5,1.5 -6.5,1.0 -4.8,0.6C-3.1,0.2 -0.8,0.1 0.0,0.0Z" transform="translate(1252.3,475.8) rotate(36)" fill="#efe2fc" stroke="#c98af8" stroke-width="2"/><path d="M0,0C0.0,-1.5 -0.2,-6.1 0.2,-9.2C0.6,-12.2 1.7,-16.0 2.5,-18.3C3.3,-20.6 4.8,-22.1 5.2,-22.9C5.8,-20.6 7.8,-14.5 8.8,-9.2C9.8,-3.9 10.7,3.7 11.1,9.0C11.5,14.3 11.5,17.7 11.1,22.7C10.7,27.7 10.1,34.1 8.8,39.1C7.5,44.1 5.7,48.8 3.4,52.7C1.1,56.7 -2.1,60.5 -4.8,62.8C-7.5,65.1 -10.6,67.0 -13.0,66.4C-15.4,65.8 -17.6,63.4 -19.4,59.1C-21.2,54.9 -23.0,47.0 -24.0,40.9C-25.0,34.8 -25.2,26.8 -25.3,22.7C-25.4,18.6 -25.3,18.1 -24.9,16.3C-24.5,14.5 -23.9,13.1 -23.1,11.7C-22.3,10.3 -21.1,9.2 -19.9,8.1C-18.7,7.0 -17.4,5.9 -15.8,4.9C-14.2,3.9 -12.1,2.9 -10.3,2.2C-8.5,1.5 -6.5,1.0 -4.8,0.6C-3.1,0.2 -0.8,0.1 0.0,0.0Z" transform="translate(1293.6,503.2) rotate(12)" fill="#efe2fc" stroke="#c98af8" stroke-width="2"/>
<path d="M278.1,330.0C278.4,327.9 278.0,321.2 280.0,317.5C282.0,313.8 285.8,309.9 290.0,307.5C294.2,305.1 299.8,303.5 305.0,303.1C310.2,302.7 315.7,303.4 321.2,305.0C326.8,306.6 335.3,311.2 338.1,312.5C339.5,311.0 342.8,305.9 346.2,303.8C349.7,301.6 354.6,299.4 358.8,299.4C362.9,299.4 367.7,301.1 371.2,303.8C374.8,306.4 378.5,313.1 380.0,315.0C382.7,313.5 389.4,308.4 396.2,306.2C403.1,304.1 412.9,301.1 421.2,301.9C429.6,302.7 439.4,306.4 446.2,311.2C453.1,316.1 460.2,325.0 462.5,331.2C464.8,337.5 464.0,343.1 460.0,348.8C456.0,354.4 442.3,362.3 438.8,365.0C439.2,367.1 442.3,372.9 441.2,377.5C440.2,382.1 436.9,389.3 432.5,392.5C428.1,395.7 420.8,396.9 415.0,396.9C409.2,396.9 401.7,394.1 397.5,392.5C393.3,390.9 391.2,388.3 390.0,387.5C389.0,389.6 387.9,396.4 383.8,400.0C379.6,403.6 370.6,407.6 365.0,409.4C359.4,411.2 355.8,411.8 350.0,410.6C344.2,409.5 335.0,405.9 330.0,402.5C325.0,399.1 321.9,394.1 320.0,390.0C318.1,385.9 319.0,380.1 318.8,378.1C316.5,378.7 310.2,381.1 305.0,381.9C299.8,382.7 294.2,384.0 287.5,383.1C280.8,382.2 271.0,380.5 265.0,376.2C259.0,372.0 252.7,363.1 251.2,357.5C249.8,351.9 251.8,347.1 256.2,342.5C260.7,337.9 274.5,332.1 278.1,330.0Z" fill="#efe1fb" stroke="#c98af7" stroke-width="2.4"/>
<g transform="translate(519.5,170.6) scale(0.548) translate(-250.6,-299)"><path d="M278.1,330.0C278.4,327.9 278.0,321.2 280.0,317.5C282.0,313.8 285.8,309.9 290.0,307.5C294.2,305.1 299.8,303.5 305.0,303.1C310.2,302.7 315.7,303.4 321.2,305.0C326.8,306.6 335.3,311.2 338.1,312.5C339.5,311.0 342.8,305.9 346.2,303.8C349.7,301.6 354.6,299.4 358.8,299.4C362.9,299.4 367.7,301.1 371.2,303.8C374.8,306.4 378.5,313.1 380.0,315.0C382.7,313.5 389.4,308.4 396.2,306.2C403.1,304.1 412.9,301.1 421.2,301.9C429.6,302.7 439.4,306.4 446.2,311.2C453.1,316.1 460.2,325.0 462.5,331.2C464.8,337.5 464.0,343.1 460.0,348.8C456.0,354.4 442.3,362.3 438.8,365.0C439.2,367.1 442.3,372.9 441.2,377.5C440.2,382.1 436.9,389.3 432.5,392.5C428.1,395.7 420.8,396.9 415.0,396.9C409.2,396.9 401.7,394.1 397.5,392.5C393.3,390.9 391.2,388.3 390.0,387.5C389.0,389.6 387.9,396.4 383.8,400.0C379.6,403.6 370.6,407.6 365.0,409.4C359.4,411.2 355.8,411.8 350.0,410.6C344.2,409.5 335.0,405.9 330.0,402.5C325.0,399.1 321.9,394.1 320.0,390.0C318.1,385.9 319.0,380.1 318.8,378.1C316.5,378.7 310.2,381.1 305.0,381.9C299.8,382.7 294.2,384.0 287.5,383.1C280.8,382.2 271.0,380.5 265.0,376.2C259.0,372.0 252.7,363.1 251.2,357.5C249.8,351.9 251.8,347.1 256.2,342.5C260.7,337.9 274.5,332.1 278.1,330.0Z" fill="#efe1fb" stroke="#c98af7" stroke-width="3.6"/></g>
<circle cx="1619" cy="439.8" r="24.4" fill="#efe1fb" stroke="#cc8ef5" stroke-width="1.6"/>
<ellipse cx="829.3" cy="560.8" rx="67.7" ry="26.9" fill="url(#gcoa)"/>
<ellipse cx="775.9" cy="658.9" rx="67.7" ry="26.9" fill="url(#grna)"/>
<ellipse cx="998.2" cy="731.5" rx="67.6" ry="27.1" fill="url(#gcoa)"/>
<ellipse cx="0" cy="0" rx="68.1" ry="26.6" fill="url(#grna)" transform="translate(1044.4,761.85) rotate(30.3)"/>
<g stroke="#5e9591" stroke-width="1.6" stroke-linejoin="round"><path d="M883.8,870.7L886.5,869.9L889.2,867.7L891.9,864.1L894.6,859.4L897.3,853.8L900.0,847.7L902.7,841.4L905.4,835.3L908.1,829.7L910.8,825.0L913.5,821.4L916.2,819.1L918.9,818.4L932.4,818.2L929.7,819.0L927.0,821.3L924.3,824.8L921.6,829.6L918.9,835.1L916.2,841.2L913.5,847.5L910.8,853.7L908.1,859.2L905.4,864.0L902.7,867.5L900.0,869.8L897.3,870.6ZM954.1,870.0L956.8,869.2L959.5,867.0L962.2,863.4L964.9,858.7L967.6,853.1L970.3,847.0L973.0,840.7L975.7,834.6L978.4,829.0L981.1,824.3L983.8,820.7L986.5,818.4L989.2,817.6L1002.7,817.5L1000.0,818.3L997.3,820.5L994.6,824.1L991.9,828.8L989.2,834.4L986.5,840.5L983.8,846.8L981.1,852.9L978.4,858.5L975.7,863.2L973.0,866.8L970.3,869.1L967.6,869.9ZM1024.4,869.3L1027.1,868.5L1029.8,866.2L1032.5,862.7L1035.2,857.9L1037.9,852.4L1040.6,846.2L1043.3,840.0L1046.0,833.8L1048.7,828.3L1051.4,823.5L1054.1,820.0L1056.8,817.7L1059.5,816.9L1073.0,816.8L1070.3,817.6L1067.6,819.8L1064.9,823.4L1062.2,828.1L1059.5,833.7L1056.8,839.8L1054.1,846.1L1051.4,852.2L1048.7,857.8L1046.0,862.5L1043.3,866.1L1040.6,868.4L1037.9,869.1ZM1094.7,868.6L1097.4,867.8L1100.1,865.5L1102.8,861.9L1105.5,857.2L1108.2,851.6L1110.9,845.5L1113.6,839.2L1116.3,833.1L1119.0,827.5L1121.7,822.8L1124.4,819.2L1127.1,817.0L1129.8,816.2L1143.3,816.1L1140.6,816.9L1137.9,819.1L1135.2,822.7L1132.5,827.4L1129.8,833.0L1127.1,839.1L1124.4,845.4L1121.7,851.5L1119.0,857.1L1116.3,861.8L1113.6,865.4L1110.9,867.6L1108.2,868.4ZM1165.0,867.8L1167.7,867.1L1170.4,864.8L1173.1,861.2L1175.8,856.5L1178.5,850.9L1181.2,844.8L1183.9,838.5L1186.6,832.4L1189.3,826.8L1192.0,822.1L1194.7,818.5L1197.4,816.3L1200.1,815.5L1213.6,815.4L1210.9,816.1L1208.2,818.4L1205.5,822.0L1202.8,826.7L1200.1,832.3L1197.4,838.4L1194.7,844.7L1192.0,850.8L1189.3,856.4L1186.6,861.1L1183.9,864.7L1181.2,866.9L1178.5,867.7ZM1235.3,867.1L1238.0,866.3L1240.7,864.1L1243.4,860.5L1246.1,855.8L1248.8,850.2L1251.5,844.1L1254.2,837.8L1256.9,831.7L1259.6,826.1L1262.3,821.4L1265.0,817.8L1267.7,815.6L1270.4,814.8L1283.9,814.6L1281.2,815.4L1278.5,817.7L1275.8,821.3L1273.1,826.0L1270.4,831.6L1267.7,837.7L1265.0,844.0L1262.3,850.1L1259.6,855.7L1256.9,860.4L1254.2,864.0L1251.5,866.2L1248.8,867.0ZM1305.6,866.4L1308.3,865.6L1311.0,863.4L1313.7,859.8L1316.4,855.1L1319.1,849.5L1321.8,843.4L1324.5,837.1L1327.2,831.0L1329.9,825.4L1332.6,820.7L1335.3,817.1L1338.0,814.8L1340.7,814.1L1354.2,813.9L1351.5,814.7L1348.8,817.0L1346.1,820.5L1343.4,825.3L1340.7,830.8L1338.0,836.9L1335.3,843.2L1332.6,849.4L1329.9,854.9L1327.2,859.7L1324.5,863.2L1321.8,865.5L1319.1,866.3ZM835.0,871.2L837.7,870.4L840.4,868.2L843.1,864.6L845.8,859.9L848.5,854.3L851.2,848.2L853.9,841.9L856.6,835.8L859.3,830.2L862.0,825.5L864.7,821.9L867.4,819.6L870.1,818.9L883.6,818.7L880.9,819.5L878.2,821.7L875.5,825.3L872.8,830.1L870.1,835.6L867.4,841.7L864.7,848.0L862.0,854.2L859.3,859.7L856.6,864.5L853.9,868.0L851.2,870.3L848.5,871.1ZM905.3,870.5L908.0,869.7L910.7,867.5L913.4,863.9L916.1,859.2L918.8,853.6L921.5,847.5L924.2,841.2L926.9,835.1L929.6,829.5L932.3,824.8L935.0,821.2L937.7,818.9L940.4,818.1L953.9,818.0L951.2,818.8L948.5,821.0L945.8,824.6L943.1,829.3L940.4,834.9L937.7,841.0L935.0,847.3L932.3,853.4L929.6,859.0L926.9,863.7L924.2,867.3L921.5,869.6L918.8,870.4ZM975.6,869.8L978.3,869.0L981.0,866.7L983.7,863.2L986.4,858.4L989.1,852.9L991.8,846.7L994.5,840.5L997.2,834.3L999.9,828.8L1002.6,824.0L1005.3,820.5L1008.0,818.2L1010.7,817.4L1024.2,817.3L1021.5,818.1L1018.8,820.3L1016.1,823.9L1013.4,828.6L1010.7,834.2L1008.0,840.3L1005.3,846.6L1002.6,852.7L999.9,858.3L997.2,863.0L994.5,866.6L991.8,868.9L989.1,869.6ZM1045.9,869.1L1048.6,868.3L1051.3,866.0L1054.0,862.4L1056.7,857.7L1059.4,852.1L1062.1,846.0L1064.8,839.7L1067.5,833.6L1070.2,828.0L1072.9,823.3L1075.6,819.7L1078.3,817.5L1081.0,816.7L1094.5,816.6L1091.8,817.3L1089.1,819.6L1086.4,823.2L1083.7,827.9L1081.0,833.5L1078.3,839.6L1075.6,845.9L1072.9,852.0L1070.2,857.6L1067.5,862.3L1064.8,865.9L1062.1,868.1L1059.4,868.9ZM1116.2,868.3L1118.9,867.6L1121.6,865.3L1124.3,861.7L1127.0,857.0L1129.7,851.4L1132.4,845.3L1135.1,839.0L1137.8,832.9L1140.5,827.3L1143.2,822.6L1145.9,819.0L1148.6,816.8L1151.3,816.0L1164.8,815.8L1162.1,816.6L1159.4,818.9L1156.7,822.5L1154.0,827.2L1151.3,832.8L1148.6,838.9L1145.9,845.2L1143.2,851.3L1140.5,856.9L1137.8,861.6L1135.1,865.2L1132.4,867.4L1129.7,868.2ZM1186.5,867.6L1189.2,866.8L1191.9,864.6L1194.6,861.0L1197.3,856.3L1200.0,850.7L1202.7,844.6L1205.4,838.3L1208.1,832.2L1210.8,826.6L1213.5,821.9L1216.2,818.3L1218.9,816.1L1221.6,815.3L1235.1,815.1L1232.4,815.9L1229.7,818.2L1227.0,821.8L1224.3,826.5L1221.6,832.1L1218.9,838.2L1216.2,844.5L1213.5,850.6L1210.8,856.1L1208.1,860.9L1205.4,864.5L1202.7,866.7L1200.0,867.5ZM1256.8,866.9L1259.5,866.1L1262.2,863.9L1264.9,860.3L1267.6,855.6L1270.3,850.0L1273.0,843.9L1275.7,837.6L1278.4,831.5L1281.1,825.9L1283.8,821.2L1286.5,817.6L1289.2,815.3L1291.9,814.6L1305.4,814.4L1302.7,815.2L1300.0,817.4L1297.3,821.0L1294.6,825.8L1291.9,831.3L1289.2,837.4L1286.5,843.7L1283.8,849.9L1281.1,855.4L1278.4,860.2L1275.7,863.7L1273.0,866.0L1270.3,866.8Z" fill="#d2e0df"/><path d="M848.6,819.1L851.3,819.8L854.0,822.0L856.7,825.5L859.4,830.2L862.1,835.7L864.8,841.8L867.6,848.0L870.3,854.1L873.0,859.6L875.7,864.3L878.4,867.8L881.1,870.0L883.8,870.7L897.3,870.6L894.6,869.8L891.9,867.7L889.2,864.1L886.5,859.5L883.8,853.9L881.1,847.9L878.3,841.6L875.6,835.6L872.9,830.1L870.2,825.4L867.5,821.9L864.8,819.7L862.1,818.9ZM918.9,818.4L921.6,819.1L924.3,821.3L927.0,824.8L929.7,829.5L932.4,835.0L935.1,841.1L937.9,847.3L940.6,853.4L943.3,858.9L946.0,863.5L948.7,867.1L951.4,869.3L954.1,870.0L967.6,869.9L964.9,869.1L962.2,866.9L959.5,863.4L956.8,858.7L954.1,853.2L951.4,847.2L948.6,840.9L945.9,834.9L943.2,829.3L940.5,824.7L937.8,821.1L935.1,818.9L932.4,818.2ZM989.2,817.6L991.9,818.4L994.6,820.6L997.3,824.1L1000.0,828.8L1002.7,834.3L1005.4,840.3L1008.2,846.6L1010.9,852.6L1013.6,858.2L1016.3,862.8L1019.0,866.4L1021.7,868.6L1024.4,869.3L1037.9,869.1L1035.2,868.4L1032.5,866.2L1029.8,862.7L1027.1,858.0L1024.4,852.5L1021.7,846.4L1018.9,840.2L1016.2,834.1L1013.5,828.6L1010.8,824.0L1008.1,820.4L1005.4,818.2L1002.7,817.5ZM1059.5,816.9L1062.2,817.6L1064.9,819.8L1067.6,823.4L1070.3,828.0L1073.0,833.6L1075.7,839.6L1078.5,845.9L1081.2,851.9L1083.9,857.4L1086.6,862.1L1089.3,865.6L1092.0,867.8L1094.7,868.6L1108.2,868.4L1105.5,867.7L1102.8,865.5L1100.1,862.0L1097.4,857.3L1094.7,851.8L1092.0,845.7L1089.2,839.5L1086.5,833.4L1083.8,827.9L1081.1,823.2L1078.4,819.7L1075.7,817.5L1073.0,816.8ZM1129.8,816.2L1132.5,816.9L1135.2,819.1L1137.9,822.7L1140.6,827.3L1143.3,832.8L1146.0,838.9L1148.8,845.1L1151.5,851.2L1154.2,856.7L1156.9,861.4L1159.6,864.9L1162.3,867.1L1165.0,867.8L1178.5,867.7L1175.8,867.0L1173.1,864.8L1170.4,861.3L1167.7,856.6L1165.0,851.1L1162.3,845.0L1159.5,838.8L1156.8,832.7L1154.1,827.2L1151.4,822.5L1148.7,819.0L1146.0,816.8L1143.3,816.1ZM1200.1,815.5L1202.8,816.2L1205.5,818.4L1208.2,821.9L1210.9,826.6L1213.6,832.1L1216.3,838.2L1219.1,844.4L1221.8,850.5L1224.5,856.0L1227.2,860.7L1229.9,864.2L1232.6,866.4L1235.3,867.1L1248.8,867.0L1246.1,866.3L1243.4,864.1L1240.7,860.5L1238.0,855.9L1235.3,850.4L1232.6,844.3L1229.8,838.1L1227.1,832.0L1224.4,826.5L1221.7,821.8L1219.0,818.3L1216.3,816.1L1213.6,815.4ZM1270.4,814.8L1273.1,815.5L1275.8,817.7L1278.5,821.2L1281.2,825.9L1283.9,831.4L1286.6,837.5L1289.4,843.7L1292.1,849.8L1294.8,855.3L1297.5,860.0L1300.2,863.5L1302.9,865.7L1305.6,866.4L1319.1,866.3L1316.4,865.5L1313.7,863.4L1311.0,859.8L1308.3,855.2L1305.6,849.6L1302.9,843.6L1300.1,837.3L1297.4,831.3L1294.7,825.8L1292.0,821.1L1289.3,817.6L1286.6,815.4L1283.9,814.6ZM870.1,818.9L872.8,819.6L875.5,821.8L878.2,825.3L880.9,830.0L883.6,835.5L886.3,841.6L889.1,847.8L891.8,853.9L894.5,859.4L897.2,864.0L899.9,867.6L902.6,869.8L905.3,870.5L918.8,870.4L916.1,869.6L913.4,867.4L910.7,863.9L908.0,859.2L905.3,853.7L902.6,847.7L899.8,841.4L897.1,835.4L894.4,829.8L891.7,825.2L889.0,821.6L886.3,819.4L883.6,818.7ZM940.4,818.1L943.1,818.9L945.8,821.1L948.5,824.6L951.2,829.3L953.9,834.8L956.6,840.8L959.4,847.1L962.1,853.1L964.8,858.7L967.5,863.3L970.2,866.9L972.9,869.0L975.6,869.8L989.1,869.6L986.4,868.9L983.7,866.7L981.0,863.2L978.3,858.5L975.6,853.0L972.9,846.9L970.1,840.7L967.4,834.6L964.7,829.1L962.0,824.5L959.3,820.9L956.6,818.7L953.9,818.0ZM1010.7,817.4L1013.4,818.1L1016.1,820.3L1018.8,823.9L1021.5,828.5L1024.2,834.1L1026.9,840.1L1029.7,846.4L1032.4,852.4L1035.1,857.9L1037.8,862.6L1040.5,866.1L1043.2,868.3L1045.9,869.1L1059.4,868.9L1056.7,868.2L1054.0,866.0L1051.3,862.5L1048.6,857.8L1045.9,852.3L1043.2,846.2L1040.4,840.0L1037.7,833.9L1035.0,828.4L1032.3,823.7L1029.6,820.2L1026.9,818.0L1024.2,817.3ZM1081.0,816.7L1083.7,817.4L1086.4,819.6L1089.1,823.2L1091.8,827.8L1094.5,833.3L1097.2,839.4L1100.0,845.6L1102.7,851.7L1105.4,857.2L1108.1,861.9L1110.8,865.4L1113.5,867.6L1116.2,868.3L1129.7,868.2L1127.0,867.5L1124.3,865.3L1121.6,861.8L1118.9,857.1L1116.2,851.6L1113.5,845.5L1110.7,839.3L1108.0,833.2L1105.3,827.7L1102.6,823.0L1099.9,819.5L1097.2,817.3L1094.5,816.6ZM1151.3,816.0L1154.0,816.7L1156.7,818.9L1159.4,822.4L1162.1,827.1L1164.8,832.6L1167.5,838.7L1170.3,844.9L1173.0,851.0L1175.7,856.5L1178.4,861.2L1181.1,864.7L1183.8,866.9L1186.5,867.6L1200.0,867.5L1197.3,866.8L1194.6,864.6L1191.9,861.0L1189.2,856.4L1186.5,850.8L1183.8,844.8L1181.0,838.5L1178.3,832.5L1175.6,827.0L1172.9,822.3L1170.2,818.8L1167.5,816.6L1164.8,815.8ZM1221.6,815.3L1224.3,816.0L1227.0,818.2L1229.7,821.7L1232.4,826.4L1235.1,831.9L1237.8,838.0L1240.6,844.2L1243.3,850.3L1246.0,855.8L1248.7,860.5L1251.4,864.0L1254.1,866.2L1256.8,866.9L1270.3,866.8L1267.6,866.0L1264.9,863.9L1262.2,860.3L1259.5,855.7L1256.8,850.1L1254.1,844.1L1251.3,837.8L1248.6,831.8L1245.9,826.3L1243.2,821.6L1240.5,818.1L1237.8,815.9L1235.1,815.1ZM1291.9,814.6L1294.6,815.3L1297.3,817.5L1300.0,821.0L1302.7,825.7L1305.4,831.2L1308.1,837.3L1310.9,843.5L1313.6,849.6L1316.3,855.1L1319.0,859.7L1321.7,863.3L1324.4,865.5L1327.1,866.2L1340.6,866.1L1337.9,865.3L1335.2,863.1L1332.5,859.6L1329.8,854.9L1327.1,849.4L1324.4,843.4L1321.6,837.1L1318.9,831.1L1316.2,825.5L1313.5,820.9L1310.8,817.3L1308.1,815.1L1305.4,814.4Z" fill="#fff"/></g>
<use href="#nr" x="359.4" y="353.1"/>
<use href="#nr" x="715.2" y="277"/><circle cx="704.8" cy="256.5" r="11.5" fill="url(#gball)" stroke="#000" stroke-width="2"/>
<use href="#nr" x="893" y="276.7"/><use href="#nr" x="918.2" y="276.7"/><circle cx="886.1" cy="252.7" r="11.5" fill="url(#gball)" stroke="#000" stroke-width="2"/><circle cx="927.3" cy="252.7" r="11.5" fill="url(#gball)" stroke="#000" stroke-width="2"/>
<use href="#nr" x="893.1" y="775"/><use href="#nr" x="918.1" y="775"/><circle cx="884.5" cy="750.8" r="11.5" fill="url(#gball)" stroke="#000" stroke-width="2"/><circle cx="927" cy="750.8" r="11.5" fill="url(#gball)" stroke="#000" stroke-width="2"/>
<circle cx="123" cy="133.6" r="11.5" fill="url(#gball)" stroke="#000" stroke-width="2"/>
<g fill="#000"><path d="M151.1,134.6C221.3,134.6 298.3,178.5 332.9,240.6" fill="none" stroke="#000" stroke-width="5.3"/><path d="M350.4,272.1L321.7,241.7L332.9,240.6L339.7,231.7Z"/><path d="M489.5,325.8L639.3,291.5" fill="none" stroke="#000" stroke-width="5.3"/><path d="M683.1,281.5L636.9,305.4L639.3,291.5L631.1,280.1Z"/><path d="M528.3,314.6C548.8,310.2 568.4,297.7 577.9,278.7" fill="none" stroke="#000" stroke-width="5.3"/><path d="M582.5,248.0L586.3,284.5L577.9,278.7L568.3,281.8Z"/><path d="M744.0,277.9L821.0,277.9" fill="none" stroke="#000" stroke-width="5.3"/><path d="M866.0,277.9L815.0,290.8L821.0,277.9L815.0,265.0Z"/><path d="M917.8,333.9C1009.9,423.2 1022.6,586.6 941.6,686.7" fill="none" stroke="#000" stroke-width="5.3"/><path d="M918.2,714.7L936.6,676.7L941.6,686.7L952.3,689.7Z"/><path d="M901.1,558.6C919.3,550.8 938.3,559.0 951.9,571.1" fill="none" stroke="#000" stroke-width="5.3"/><path d="M963.5,595.5L943.0,570.9L951.9,571.1L957.5,564.1Z"/><path d="M863.7,623.1C881.6,614.1 901.9,623.9 913.2,638.2" fill="none" stroke="#000" stroke-width="5.3"/><path d="M926.6,662.2L904.3,638.6L913.2,638.2L918.2,630.8Z"/><path d="M1132.6,788.5C1161.7,788.3 1186.2,770.7 1203.3,748.7" fill="none" stroke="#000" stroke-width="5.3"/><path d="M1211.1,713.0L1212.6,755.3L1203.3,748.7L1192.1,750.8Z"/><path d="M1213.5,650.9C1202.3,549.5 1283.2,451.9 1380.1,430.4" fill="none" stroke="#000" stroke-width="5.3"/><path d="M1416.0,425.6L1377.1,441.3L1380.1,430.4L1374.3,420.7Z"/><path d="M1539.8,425.0C1568.8,426.9 1598.5,410.4 1609.6,383.1" fill="none" stroke="#000" stroke-width="5.3"/><path d="M1615.4,347.9L1619.1,389.2L1609.6,383.1L1598.7,385.9Z"/><path d="M1615.8,292.7C1619.6,262.6 1598.3,231.6 1568.8,224.6" fill="none" stroke="#000" stroke-width="5.3"/><path d="M1534.2,217.7L1575.2,215.4L1568.8,224.6L1571.3,235.4Z"/></g>
<g font-family="Liberation Sans, sans-serif" fill="#000"><text transform="translate(49.51,93.2) scale(0.9900,1)" font-size="32.8">hormone</text><text transform="translate(649.20,171.2) scale(1.0046,1)" font-size="32.8">HSP</text><text transform="translate(623.26,356.0) scale(0.9818,1)" font-size="32.8">NR/hormone</text><text transform="translate(654.85,389.0) scale(0.9817,1)" font-size="32.8">complex</text><text transform="translate(1012.69,394.5) scale(0.9737,1)" font-size="32.8">nuclear</text><text transform="translate(1032.38,427.7) scale(0.9958,1)" font-size="32.8">pore</text><text transform="translate(294.65,454.5) scale(0.9850,1)" font-size="32.8">NR/HSP</text><text transform="translate(295.25,488.8) scale(0.9808,1)" font-size="32.8">complex</text><text transform="translate(1357.39,208.5) scale(0.9843,1)" font-size="32.8">changed</text><text transform="translate(1334.25,243.2) scale(0.9793,1)" font-size="32.8">cell function</text><text transform="translate(1570.17,327.4) scale(0.9968,1)" font-size="32.8">protein</text><text transform="translate(1434.29,434.4) scale(0.9763,1)" font-size="32.8">mRNA</text><text transform="translate(1557.88,504.3) scale(0.9802,1)" font-size="32.8">ribosome</text><text transform="translate(1170.79,696.0) scale(0.9763,1)" font-size="32.8">mRNA</text><text transform="translate(949.05,290.8) scale(0.9855,1)" font-size="32.8">NR dimer</text><text transform="translate(103.25,579.0) scale(0.9834,1)" font-size="32.8">cytoplasm</text><text transform="translate(615.35,610.5) scale(0.9786,1)" font-size="32.8">coactivator</text><text transform="translate(482.85,711.7) scale(0.9865,1)" font-size="32.8">RNA polymerase</text><text transform="translate(721.57,787.0) scale(0.9795,1)" font-size="32.8">NR dimer</text><text transform="translate(646.58,854.2) scale(0.9798,1)" font-size="32.8">nuclear DNA</text><text transform="translate(869.55,923.3) scale(0.9840,1)" font-size="32.8">HRE</text><text transform="translate(1052.52,923.8) scale(0.9750,1)" font-size="32.8">target gene</text><text transform="translate(1622.67,646.5) scale(0.9832,1)" font-size="32.8">nuclear</text><text transform="translate(1610.76,679.6) scale(0.9761,1)" font-size="32.8">envelope</text><text transform="translate(1673.81,1007.2) scale(1.0126,1)" font-size="32.8">cell</text><text transform="translate(1621.62,1039.3) scale(0.9822,1)" font-size="32.8">membrane</text><text transform="translate(299.19,340.2) scale(1.0298,1)" font-size="21.4">LBD</text><text transform="translate(297.92,373.6) scale(1.0143,1)" font-size="21.4">DBD</text></g>
</svg></body></html>
